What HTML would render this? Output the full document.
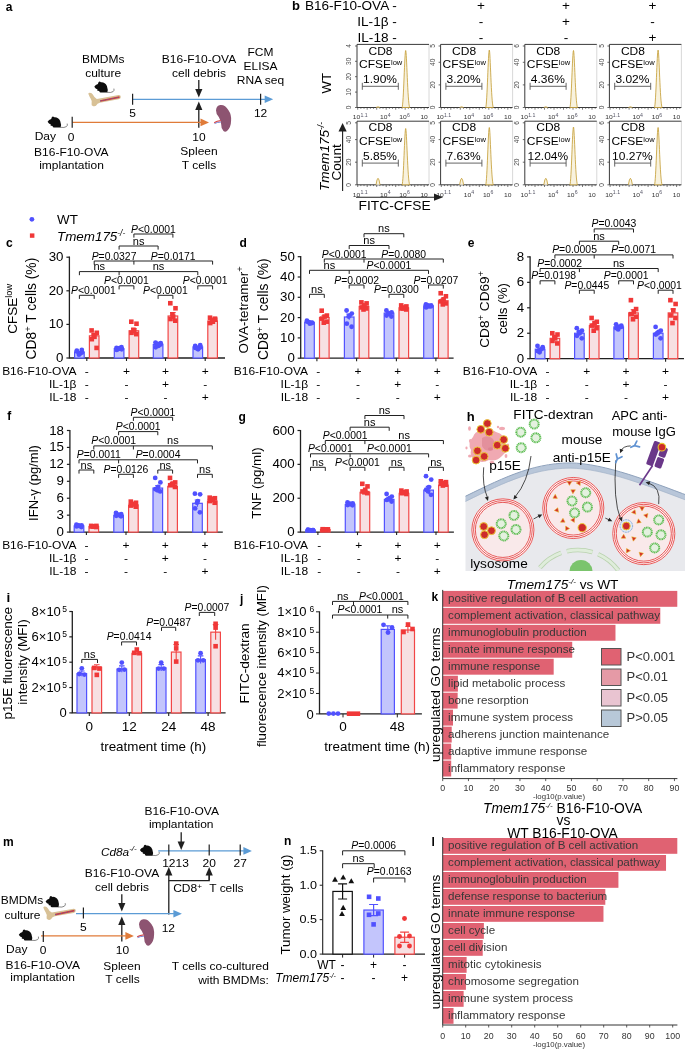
<!DOCTYPE html>
<html><head><meta charset="utf-8"><title>Figure</title>
<style>
html,body{margin:0;padding:0;background:#fff;}
body{width:685px;height:1050px;overflow:hidden;}
svg{display:block;will-change:transform;filter:blur(0.3px);font-family:"Liberation Sans",sans-serif;}
</style></head><body>
<svg width="685" height="1050" viewBox="0 0 685 1050">
<rect width="685" height="1050" fill="#fff"/>
<text x="5.70" y="11.20" font-size="12" font-weight="bold">a</text>
<text x="0" y="0" transform="translate(103.20,63.40) scale(1.08,1)" font-size="11.111" text-anchor="middle">BMDMs</text>
<text x="0" y="0" transform="translate(103.20,77.20) scale(1.08,1)" font-size="11.111" text-anchor="middle">culture</text>
<g transform="translate(94.30,81.00) scale(1.0,1.0)"><path d="M0,5.8 Q1.2,3.8 3.6,3.1 L4.2,1.2 Q5.3,-0.2 6.6,1.3 Q10.6,0.9 12.6,5 Q14,8.8 13,11.6 L6.2,11.6 Q4.6,11.3 5.1,9.9 L3.4,9.7 Q2.3,9.4 3.3,8.5 Q1.1,7.8 0,5.8Z" fill="#0d0d0d"/><path d="M12.6,11.3 Q16.8,12 18.8,10.6 Q20.3,9.4 19.6,7.6" stroke="#555" stroke-width="0.7" fill="none"/></g>
<g transform="translate(87.60,92.60) scale(1.0)"><path d="M1,2 Q0,0.4 2,0.2 Q4.2,0 5.2,2 Q6.3,4.6 9.2,6.4 L31,2.5 Q33.2,2.3 33.2,4.4 Q33.2,6.3 31,6.7 L12.2,10.1 Q9.4,11 8.8,12.6 Q7.8,14.2 5.6,13.6 Q3.4,13 4,10.8 Q4.6,8.4 3,6 Q1.8,4 1,2Z" fill="#d8c196"/><path d="M12.6,8.4 L31.8,4.5" stroke="#d23c3c" stroke-width="1.7" fill="none"/><path d="M12.6,8.4 L31.8,4.5" stroke="#4f5fb5" stroke-width="0.8" stroke-dasharray="1.1,1.3" fill="none"/></g>
<line x1="132.60" y1="99.30" x2="265.20" y2="99.30" stroke="#5b9bd5" stroke-width="1.3"/>
<path d="M273.20,99.30L264.70,95.50L264.70,103.10Z" fill="#5b9bd5"/>
<line x1="132.60" y1="93.70" x2="132.60" y2="104.70" stroke="#202020" stroke-width="1.2"/>
<line x1="260.60" y1="93.70" x2="260.60" y2="104.70" stroke="#202020" stroke-width="1.2"/>
<text x="0" y="0" transform="translate(132.60,117.20) scale(1.08,1)" font-size="11.111" text-anchor="middle">5</text>
<text x="0" y="0" transform="translate(260.60,117.20) scale(1.08,1)" font-size="11.111" text-anchor="middle">12</text>
<text x="0" y="0" transform="translate(260.50,55.50) scale(1.08,1)" font-size="11.111" text-anchor="middle">FCM</text>
<text x="0" y="0" transform="translate(260.50,70.00) scale(1.08,1)" font-size="11.111" text-anchor="middle">ELISA</text>
<text x="0" y="0" transform="translate(260.50,84.40) scale(1.08,1)" font-size="11.111" text-anchor="middle">RNA seq</text>
<text x="0" y="0" transform="translate(199.00,63.40) scale(1.08,1)" font-size="11.111" text-anchor="middle">B16-F10-OVA</text>
<text x="0" y="0" transform="translate(199.00,77.30) scale(1.08,1)" font-size="11.111" text-anchor="middle">cell debris</text>
<line x1="198.80" y1="80.00" x2="198.80" y2="89.50" stroke="#202020" stroke-width="1.3"/>
<path d="M198.80,97.50L195.20,89.00L202.40,89.00Z" fill="#202020"/>
<line x1="198.80" y1="127.70" x2="198.80" y2="109.40" stroke="#202020" stroke-width="1.3"/>
<path d="M198.80,101.40L195.20,109.90L202.40,109.90Z" fill="#202020"/>
<line x1="72.50" y1="122.40" x2="201.00" y2="122.40" stroke="#e07b39" stroke-width="1.3"/>
<path d="M209.00,122.40L200.50,118.60L200.50,126.20Z" fill="#e07b39"/>
<line x1="72.20" y1="116.70" x2="72.20" y2="127.70" stroke="#202020" stroke-width="1.2"/>
<g transform="translate(47.60,116.00) scale(1.0,1.0)"><path d="M0,5.8 Q1.2,3.8 3.6,3.1 L4.2,1.2 Q5.3,-0.2 6.6,1.3 Q10.6,0.9 12.6,5 Q14,8.8 13,11.6 L6.2,11.6 Q4.6,11.3 5.1,9.9 L3.4,9.7 Q2.3,9.4 3.3,8.5 Q1.1,7.8 0,5.8Z" fill="#0d0d0d"/><path d="M12.6,11.3 Q16.8,12 18.8,10.6 Q20.3,9.4 19.6,7.6" stroke="#555" stroke-width="0.7" fill="none"/></g>
<text x="0" y="0" transform="translate(34.70,140.00) scale(1.08,1)" font-size="11.111">Day</text>
<text x="0" y="0" transform="translate(71.00,141.20) scale(1.08,1)" font-size="11.111" text-anchor="middle">0</text>
<text x="0" y="0" transform="translate(71.30,155.80) scale(1.08,1)" font-size="11.111" text-anchor="middle">B16-F10-OVA</text>
<text x="0" y="0" transform="translate(71.50,168.70) scale(1.08,1)" font-size="11.111" text-anchor="middle">implantation</text>
<text x="0" y="0" transform="translate(199.00,141.40) scale(1.08,1)" font-size="11.111" text-anchor="middle">10</text>
<text x="0" y="0" transform="translate(199.00,155.30) scale(1.08,1)" font-size="11.111" text-anchor="middle">Spleen</text>
<text x="0" y="0" transform="translate(199.00,169.20) scale(1.08,1)" font-size="11.111" text-anchor="middle">T cells</text>
<g transform="translate(214.00,104.50) scale(1.0)"><path d="M6.3,0.6 Q11,0 14.5,5.7 Q17.5,10 17.1,16 Q17,23 13,26.5 Q11,27.8 9.5,26.5 Q7,24 7.2,20 Q7,16 4.8,12.4 Q1.8,9 2,5.7 Q2.5,1 6.3,0.6Z" fill="#8d5471"/><path d="M0.2,18.2 Q3,16.4 6.8,16.2" stroke="#d9423f" stroke-width="1.3" fill="none"/><path d="M0.6,19 Q3.2,17.7 6.8,17.6" stroke="#5866c8" stroke-width="0.8" fill="none"/></g>
<text x="292.00" y="10.40" font-size="13" font-weight="bold">b</text>
<text x="0" y="0" transform="translate(396.80,10.00) scale(1.08,1)" font-size="12.593" text-anchor="end">B16-F10-OVA -</text>
<text x="0" y="0" transform="translate(396.80,25.70) scale(1.08,1)" font-size="12.593" text-anchor="end">IL-1β -</text>
<text x="0" y="0" transform="translate(396.80,41.50) scale(1.08,1)" font-size="12.593" text-anchor="end">IL-18 -</text>
<text x="0" y="0" transform="translate(481.00,10.00) scale(1.08,1)" font-size="12.593" text-anchor="middle">+</text>
<text x="0" y="0" transform="translate(481.00,25.70) scale(1.08,1)" font-size="12.593" text-anchor="middle">-</text>
<text x="0" y="0" transform="translate(481.00,41.50) scale(1.08,1)" font-size="12.593" text-anchor="middle">-</text>
<text x="0" y="0" transform="translate(566.00,10.00) scale(1.08,1)" font-size="12.593" text-anchor="middle">+</text>
<text x="0" y="0" transform="translate(566.00,25.70) scale(1.08,1)" font-size="12.593" text-anchor="middle">+</text>
<text x="0" y="0" transform="translate(566.00,41.50) scale(1.08,1)" font-size="12.593" text-anchor="middle">-</text>
<text x="0" y="0" transform="translate(652.50,10.00) scale(1.08,1)" font-size="12.593" text-anchor="middle">+</text>
<text x="0" y="0" transform="translate(652.50,25.70) scale(1.08,1)" font-size="12.593" text-anchor="middle">-</text>
<text x="0" y="0" transform="translate(652.50,41.50) scale(1.08,1)" font-size="12.593" text-anchor="middle">+</text>
<line x1="429.00" y1="44.40" x2="429.00" y2="107.50" stroke="#d4d4d4" stroke-width="0.9"/>
<line x1="357.00" y1="44.40" x2="429.00" y2="44.40" stroke="#3a3a3a" stroke-width="1.0"/>
<path d="M357.00,44.40V107.50H429.00" fill="none" stroke="#3a3a3a" stroke-width="1.0"/>
<line x1="355.00" y1="107.50" x2="357.00" y2="107.50" stroke="#444" stroke-width="0.8"/>
<text x="0" y="0" transform="translate(351.20,107.50) rotate(-90) scale(1,1.0)" font-size="6.6" text-anchor="middle" fill="#4a4a4a">0</text>
<line x1="355.00" y1="92.10" x2="357.00" y2="92.10" stroke="#444" stroke-width="0.8"/>
<text x="0" y="0" transform="translate(351.20,92.10) rotate(-90) scale(1,1.0)" font-size="6.6" text-anchor="middle" fill="#4a4a4a">10</text>
<line x1="355.00" y1="76.70" x2="357.00" y2="76.70" stroke="#444" stroke-width="0.8"/>
<text x="0" y="0" transform="translate(351.20,76.70) rotate(-90) scale(1,1.0)" font-size="6.6" text-anchor="middle" fill="#4a4a4a">20</text>
<line x1="355.00" y1="61.30" x2="357.00" y2="61.30" stroke="#444" stroke-width="0.8"/>
<text x="0" y="0" transform="translate(351.20,61.30) rotate(-90) scale(1,1.0)" font-size="6.6" text-anchor="middle" fill="#4a4a4a">30</text>
<line x1="355.00" y1="46.00" x2="357.00" y2="46.00" stroke="#444" stroke-width="0.8"/>
<text x="0" y="0" transform="translate(351.20,46.00) rotate(-90) scale(1,1.0)" font-size="6.6" text-anchor="middle" fill="#4a4a4a">4</text>
<line x1="357.70" y1="107.50" x2="357.70" y2="109.70" stroke="#444" stroke-width="0.7"/>
<line x1="360.87" y1="107.50" x2="360.87" y2="108.80" stroke="#444" stroke-width="0.7"/>
<line x1="364.03" y1="107.50" x2="364.03" y2="108.80" stroke="#444" stroke-width="0.7"/>
<line x1="367.20" y1="107.50" x2="367.20" y2="109.70" stroke="#444" stroke-width="0.7"/>
<line x1="370.37" y1="107.50" x2="370.37" y2="108.80" stroke="#444" stroke-width="0.7"/>
<line x1="373.53" y1="107.50" x2="373.53" y2="108.80" stroke="#444" stroke-width="0.7"/>
<line x1="376.70" y1="107.50" x2="376.70" y2="109.70" stroke="#444" stroke-width="0.7"/>
<line x1="379.87" y1="107.50" x2="379.87" y2="108.80" stroke="#444" stroke-width="0.7"/>
<line x1="383.03" y1="107.50" x2="383.03" y2="108.80" stroke="#444" stroke-width="0.7"/>
<line x1="386.20" y1="107.50" x2="386.20" y2="109.70" stroke="#444" stroke-width="0.7"/>
<line x1="389.37" y1="107.50" x2="389.37" y2="108.80" stroke="#444" stroke-width="0.7"/>
<line x1="392.53" y1="107.50" x2="392.53" y2="108.80" stroke="#444" stroke-width="0.7"/>
<line x1="395.70" y1="107.50" x2="395.70" y2="109.70" stroke="#444" stroke-width="0.7"/>
<line x1="398.87" y1="107.50" x2="398.87" y2="108.80" stroke="#444" stroke-width="0.7"/>
<line x1="402.03" y1="107.50" x2="402.03" y2="108.80" stroke="#444" stroke-width="0.7"/>
<line x1="405.20" y1="107.50" x2="405.20" y2="109.70" stroke="#444" stroke-width="0.7"/>
<line x1="408.37" y1="107.50" x2="408.37" y2="108.80" stroke="#444" stroke-width="0.7"/>
<line x1="411.53" y1="107.50" x2="411.53" y2="108.80" stroke="#444" stroke-width="0.7"/>
<line x1="414.70" y1="107.50" x2="414.70" y2="109.70" stroke="#444" stroke-width="0.7"/>
<line x1="417.87" y1="107.50" x2="417.87" y2="108.80" stroke="#444" stroke-width="0.7"/>
<line x1="421.03" y1="107.50" x2="421.03" y2="108.80" stroke="#444" stroke-width="0.7"/>
<line x1="424.20" y1="107.50" x2="424.20" y2="109.70" stroke="#444" stroke-width="0.7"/>
<line x1="427.37" y1="107.50" x2="427.37" y2="108.80" stroke="#444" stroke-width="0.7"/>
<text x="0" y="0" transform="translate(352.80,119.20) scale(1.08,1)" font-size="6.204" fill="#333">10</text>
<text x="0" y="0" transform="translate(360.40,116.50) scale(1.08,1)" font-size="4.815" fill="#556">1.1</text>
<text x="0" y="0" transform="translate(380.10,119.20) scale(1.08,1)" font-size="6.204" fill="#333">10</text>
<text x="0" y="0" transform="translate(387.70,116.50) scale(1.08,1)" font-size="4.815" fill="#556">4</text>
<text x="0" y="0" transform="translate(399.30,119.20) scale(1.08,1)" font-size="6.204" fill="#333">10</text>
<text x="0" y="0" transform="translate(406.90,116.50) scale(1.08,1)" font-size="4.815" fill="#556">6</text>
<text x="0" y="0" transform="translate(420.40,119.20) scale(1.08,1)" font-size="6.204" fill="#333">10</text>
<path d="M402.10,107.50 C403.60,104.50 404.60,50.50 405.70,50.50 C406.70,50.50 407.60,103.50 409.70,107.50Z" fill="#f8f2de" stroke="#c39a2e" stroke-width="0.8"/>
<path d="M376.00,107.50 Q378.00,106.00 380.00,107.50" fill="#f8f2de" stroke="#c39a2e" stroke-width="0.8"/>
<text x="0" y="0" transform="translate(380.50,54.60) scale(1.08,1)" font-size="11.111" text-anchor="middle">CD8</text>
<text x="0" y="0" transform="translate(359.00,68.40) scale(1.08,1)" font-size="11.111">CFSE<tspan font-size="7" dy="-3.5">low</tspan></text>
<text x="0" y="0" transform="translate(380.00,83.40) scale(1.08,1)" font-size="11.111" text-anchor="middle">1.90%</text>
<path d="M362.30,82.80V89.80M362.30,86.30H398.30M398.30,82.80V89.80" fill="none" stroke="#555" stroke-width="0.9"/>
<line x1="429.00" y1="121.20" x2="429.00" y2="184.80" stroke="#d4d4d4" stroke-width="0.9"/>
<line x1="357.00" y1="121.20" x2="429.00" y2="121.20" stroke="#3a3a3a" stroke-width="1.0"/>
<path d="M357.00,121.20V184.80H429.00" fill="none" stroke="#3a3a3a" stroke-width="1.0"/>
<line x1="355.00" y1="184.80" x2="357.00" y2="184.80" stroke="#444" stroke-width="0.8"/>
<text x="0" y="0" transform="translate(351.20,184.80) rotate(-90) scale(1,1.0)" font-size="6.6" text-anchor="middle" fill="#4a4a4a">0</text>
<line x1="355.00" y1="162.20" x2="357.00" y2="162.20" stroke="#444" stroke-width="0.8"/>
<text x="0" y="0" transform="translate(351.20,162.20) rotate(-90) scale(1,1.0)" font-size="6.6" text-anchor="middle" fill="#4a4a4a">20</text>
<line x1="355.00" y1="139.60" x2="357.00" y2="139.60" stroke="#444" stroke-width="0.8"/>
<text x="0" y="0" transform="translate(351.20,139.60) rotate(-90) scale(1,1.0)" font-size="6.6" text-anchor="middle" fill="#4a4a4a">40</text>
<line x1="355.00" y1="122.80" x2="357.00" y2="122.80" stroke="#444" stroke-width="0.8"/>
<text x="0" y="0" transform="translate(351.20,122.80) rotate(-90) scale(1,1.0)" font-size="6.6" text-anchor="middle" fill="#4a4a4a">5</text>
<line x1="357.70" y1="184.80" x2="357.70" y2="187.00" stroke="#444" stroke-width="0.7"/>
<line x1="360.87" y1="184.80" x2="360.87" y2="186.10" stroke="#444" stroke-width="0.7"/>
<line x1="364.03" y1="184.80" x2="364.03" y2="186.10" stroke="#444" stroke-width="0.7"/>
<line x1="367.20" y1="184.80" x2="367.20" y2="187.00" stroke="#444" stroke-width="0.7"/>
<line x1="370.37" y1="184.80" x2="370.37" y2="186.10" stroke="#444" stroke-width="0.7"/>
<line x1="373.53" y1="184.80" x2="373.53" y2="186.10" stroke="#444" stroke-width="0.7"/>
<line x1="376.70" y1="184.80" x2="376.70" y2="187.00" stroke="#444" stroke-width="0.7"/>
<line x1="379.87" y1="184.80" x2="379.87" y2="186.10" stroke="#444" stroke-width="0.7"/>
<line x1="383.03" y1="184.80" x2="383.03" y2="186.10" stroke="#444" stroke-width="0.7"/>
<line x1="386.20" y1="184.80" x2="386.20" y2="187.00" stroke="#444" stroke-width="0.7"/>
<line x1="389.37" y1="184.80" x2="389.37" y2="186.10" stroke="#444" stroke-width="0.7"/>
<line x1="392.53" y1="184.80" x2="392.53" y2="186.10" stroke="#444" stroke-width="0.7"/>
<line x1="395.70" y1="184.80" x2="395.70" y2="187.00" stroke="#444" stroke-width="0.7"/>
<line x1="398.87" y1="184.80" x2="398.87" y2="186.10" stroke="#444" stroke-width="0.7"/>
<line x1="402.03" y1="184.80" x2="402.03" y2="186.10" stroke="#444" stroke-width="0.7"/>
<line x1="405.20" y1="184.80" x2="405.20" y2="187.00" stroke="#444" stroke-width="0.7"/>
<line x1="408.37" y1="184.80" x2="408.37" y2="186.10" stroke="#444" stroke-width="0.7"/>
<line x1="411.53" y1="184.80" x2="411.53" y2="186.10" stroke="#444" stroke-width="0.7"/>
<line x1="414.70" y1="184.80" x2="414.70" y2="187.00" stroke="#444" stroke-width="0.7"/>
<line x1="417.87" y1="184.80" x2="417.87" y2="186.10" stroke="#444" stroke-width="0.7"/>
<line x1="421.03" y1="184.80" x2="421.03" y2="186.10" stroke="#444" stroke-width="0.7"/>
<line x1="424.20" y1="184.80" x2="424.20" y2="187.00" stroke="#444" stroke-width="0.7"/>
<line x1="427.37" y1="184.80" x2="427.37" y2="186.10" stroke="#444" stroke-width="0.7"/>
<text x="0" y="0" transform="translate(352.80,196.50) scale(1.08,1)" font-size="6.204" fill="#333">10</text>
<text x="0" y="0" transform="translate(360.40,193.80) scale(1.08,1)" font-size="4.815" fill="#556">1.1</text>
<text x="0" y="0" transform="translate(380.10,196.50) scale(1.08,1)" font-size="6.204" fill="#333">10</text>
<text x="0" y="0" transform="translate(387.70,193.80) scale(1.08,1)" font-size="4.815" fill="#556">4</text>
<text x="0" y="0" transform="translate(399.30,196.50) scale(1.08,1)" font-size="6.204" fill="#333">10</text>
<text x="0" y="0" transform="translate(406.90,193.80) scale(1.08,1)" font-size="4.815" fill="#556">6</text>
<text x="0" y="0" transform="translate(420.40,196.50) scale(1.08,1)" font-size="6.204" fill="#333">10</text>
<path d="M402.10,184.80 C403.60,181.80 404.60,128.50 405.70,128.50 C406.70,128.50 407.60,180.80 409.70,184.80Z" fill="#f8f2de" stroke="#c39a2e" stroke-width="0.8"/>
<path d="M376.00,184.80 Q378.00,171.80 380.00,184.80" fill="#f8f2de" stroke="#c39a2e" stroke-width="0.8"/>
<text x="0" y="0" transform="translate(380.50,131.40) scale(1.08,1)" font-size="11.111" text-anchor="middle">CD8</text>
<text x="0" y="0" transform="translate(359.00,145.20) scale(1.08,1)" font-size="11.111">CFSE<tspan font-size="7" dy="-3.5">low</tspan></text>
<text x="0" y="0" transform="translate(380.00,160.20) scale(1.08,1)" font-size="11.111" text-anchor="middle">5.85%</text>
<path d="M362.30,159.60V166.60M362.30,163.10H398.30M398.30,159.60V166.60" fill="none" stroke="#555" stroke-width="0.9"/>
<line x1="512.60" y1="44.40" x2="512.60" y2="107.50" stroke="#d4d4d4" stroke-width="0.9"/>
<line x1="440.60" y1="44.40" x2="512.60" y2="44.40" stroke="#3a3a3a" stroke-width="1.0"/>
<path d="M440.60,44.40V107.50H512.60" fill="none" stroke="#3a3a3a" stroke-width="1.0"/>
<line x1="438.60" y1="107.50" x2="440.60" y2="107.50" stroke="#444" stroke-width="0.8"/>
<text x="0" y="0" transform="translate(434.80,107.50) rotate(-90) scale(1,1.0)" font-size="6.6" text-anchor="middle" fill="#4a4a4a">0</text>
<line x1="438.60" y1="84.90" x2="440.60" y2="84.90" stroke="#444" stroke-width="0.8"/>
<text x="0" y="0" transform="translate(434.80,84.90) rotate(-90) scale(1,1.0)" font-size="6.6" text-anchor="middle" fill="#4a4a4a">20</text>
<line x1="438.60" y1="62.30" x2="440.60" y2="62.30" stroke="#444" stroke-width="0.8"/>
<text x="0" y="0" transform="translate(434.80,62.30) rotate(-90) scale(1,1.0)" font-size="6.6" text-anchor="middle" fill="#4a4a4a">40</text>
<line x1="438.60" y1="46.00" x2="440.60" y2="46.00" stroke="#444" stroke-width="0.8"/>
<text x="0" y="0" transform="translate(434.80,46.00) rotate(-90) scale(1,1.0)" font-size="6.6" text-anchor="middle" fill="#4a4a4a">5</text>
<line x1="441.30" y1="107.50" x2="441.30" y2="109.70" stroke="#444" stroke-width="0.7"/>
<line x1="444.47" y1="107.50" x2="444.47" y2="108.80" stroke="#444" stroke-width="0.7"/>
<line x1="447.63" y1="107.50" x2="447.63" y2="108.80" stroke="#444" stroke-width="0.7"/>
<line x1="450.80" y1="107.50" x2="450.80" y2="109.70" stroke="#444" stroke-width="0.7"/>
<line x1="453.97" y1="107.50" x2="453.97" y2="108.80" stroke="#444" stroke-width="0.7"/>
<line x1="457.13" y1="107.50" x2="457.13" y2="108.80" stroke="#444" stroke-width="0.7"/>
<line x1="460.30" y1="107.50" x2="460.30" y2="109.70" stroke="#444" stroke-width="0.7"/>
<line x1="463.47" y1="107.50" x2="463.47" y2="108.80" stroke="#444" stroke-width="0.7"/>
<line x1="466.63" y1="107.50" x2="466.63" y2="108.80" stroke="#444" stroke-width="0.7"/>
<line x1="469.80" y1="107.50" x2="469.80" y2="109.70" stroke="#444" stroke-width="0.7"/>
<line x1="472.97" y1="107.50" x2="472.97" y2="108.80" stroke="#444" stroke-width="0.7"/>
<line x1="476.13" y1="107.50" x2="476.13" y2="108.80" stroke="#444" stroke-width="0.7"/>
<line x1="479.30" y1="107.50" x2="479.30" y2="109.70" stroke="#444" stroke-width="0.7"/>
<line x1="482.47" y1="107.50" x2="482.47" y2="108.80" stroke="#444" stroke-width="0.7"/>
<line x1="485.63" y1="107.50" x2="485.63" y2="108.80" stroke="#444" stroke-width="0.7"/>
<line x1="488.80" y1="107.50" x2="488.80" y2="109.70" stroke="#444" stroke-width="0.7"/>
<line x1="491.97" y1="107.50" x2="491.97" y2="108.80" stroke="#444" stroke-width="0.7"/>
<line x1="495.13" y1="107.50" x2="495.13" y2="108.80" stroke="#444" stroke-width="0.7"/>
<line x1="498.30" y1="107.50" x2="498.30" y2="109.70" stroke="#444" stroke-width="0.7"/>
<line x1="501.47" y1="107.50" x2="501.47" y2="108.80" stroke="#444" stroke-width="0.7"/>
<line x1="504.63" y1="107.50" x2="504.63" y2="108.80" stroke="#444" stroke-width="0.7"/>
<line x1="507.80" y1="107.50" x2="507.80" y2="109.70" stroke="#444" stroke-width="0.7"/>
<line x1="510.97" y1="107.50" x2="510.97" y2="108.80" stroke="#444" stroke-width="0.7"/>
<text x="0" y="0" transform="translate(436.40,119.20) scale(1.08,1)" font-size="6.204" fill="#333">10</text>
<text x="0" y="0" transform="translate(444.00,116.50) scale(1.08,1)" font-size="4.815" fill="#556">1.1</text>
<text x="0" y="0" transform="translate(463.70,119.20) scale(1.08,1)" font-size="6.204" fill="#333">10</text>
<text x="0" y="0" transform="translate(471.30,116.50) scale(1.08,1)" font-size="4.815" fill="#556">4</text>
<text x="0" y="0" transform="translate(482.90,119.20) scale(1.08,1)" font-size="6.204" fill="#333">10</text>
<text x="0" y="0" transform="translate(490.50,116.50) scale(1.08,1)" font-size="4.815" fill="#556">6</text>
<text x="0" y="0" transform="translate(504.00,119.20) scale(1.08,1)" font-size="6.204" fill="#333">10</text>
<path d="M485.70,107.50 C487.20,104.50 488.20,50.00 489.30,50.00 C490.30,50.00 491.20,103.50 493.30,107.50Z" fill="#f8f2de" stroke="#c39a2e" stroke-width="0.8"/>
<path d="M459.60,107.50 Q461.60,106.00 463.60,107.50" fill="#f8f2de" stroke="#c39a2e" stroke-width="0.8"/>
<text x="0" y="0" transform="translate(464.10,54.60) scale(1.08,1)" font-size="11.111" text-anchor="middle">CD8</text>
<text x="0" y="0" transform="translate(442.60,68.40) scale(1.08,1)" font-size="11.111">CFSE<tspan font-size="7" dy="-3.5">low</tspan></text>
<text x="0" y="0" transform="translate(463.60,83.40) scale(1.08,1)" font-size="11.111" text-anchor="middle">3.20%</text>
<path d="M445.90,82.80V89.80M445.90,86.30H481.90M481.90,82.80V89.80" fill="none" stroke="#555" stroke-width="0.9"/>
<line x1="512.60" y1="121.20" x2="512.60" y2="184.80" stroke="#d4d4d4" stroke-width="0.9"/>
<line x1="440.60" y1="121.20" x2="512.60" y2="121.20" stroke="#3a3a3a" stroke-width="1.0"/>
<path d="M440.60,121.20V184.80H512.60" fill="none" stroke="#3a3a3a" stroke-width="1.0"/>
<line x1="438.60" y1="184.80" x2="440.60" y2="184.80" stroke="#444" stroke-width="0.8"/>
<text x="0" y="0" transform="translate(434.80,184.80) rotate(-90) scale(1,1.0)" font-size="6.6" text-anchor="middle" fill="#4a4a4a">0</text>
<line x1="438.60" y1="162.20" x2="440.60" y2="162.20" stroke="#444" stroke-width="0.8"/>
<text x="0" y="0" transform="translate(434.80,162.20) rotate(-90) scale(1,1.0)" font-size="6.6" text-anchor="middle" fill="#4a4a4a">20</text>
<line x1="438.60" y1="139.60" x2="440.60" y2="139.60" stroke="#444" stroke-width="0.8"/>
<text x="0" y="0" transform="translate(434.80,139.60) rotate(-90) scale(1,1.0)" font-size="6.6" text-anchor="middle" fill="#4a4a4a">40</text>
<line x1="438.60" y1="122.80" x2="440.60" y2="122.80" stroke="#444" stroke-width="0.8"/>
<text x="0" y="0" transform="translate(434.80,122.80) rotate(-90) scale(1,1.0)" font-size="6.6" text-anchor="middle" fill="#4a4a4a">5</text>
<line x1="441.30" y1="184.80" x2="441.30" y2="187.00" stroke="#444" stroke-width="0.7"/>
<line x1="444.47" y1="184.80" x2="444.47" y2="186.10" stroke="#444" stroke-width="0.7"/>
<line x1="447.63" y1="184.80" x2="447.63" y2="186.10" stroke="#444" stroke-width="0.7"/>
<line x1="450.80" y1="184.80" x2="450.80" y2="187.00" stroke="#444" stroke-width="0.7"/>
<line x1="453.97" y1="184.80" x2="453.97" y2="186.10" stroke="#444" stroke-width="0.7"/>
<line x1="457.13" y1="184.80" x2="457.13" y2="186.10" stroke="#444" stroke-width="0.7"/>
<line x1="460.30" y1="184.80" x2="460.30" y2="187.00" stroke="#444" stroke-width="0.7"/>
<line x1="463.47" y1="184.80" x2="463.47" y2="186.10" stroke="#444" stroke-width="0.7"/>
<line x1="466.63" y1="184.80" x2="466.63" y2="186.10" stroke="#444" stroke-width="0.7"/>
<line x1="469.80" y1="184.80" x2="469.80" y2="187.00" stroke="#444" stroke-width="0.7"/>
<line x1="472.97" y1="184.80" x2="472.97" y2="186.10" stroke="#444" stroke-width="0.7"/>
<line x1="476.13" y1="184.80" x2="476.13" y2="186.10" stroke="#444" stroke-width="0.7"/>
<line x1="479.30" y1="184.80" x2="479.30" y2="187.00" stroke="#444" stroke-width="0.7"/>
<line x1="482.47" y1="184.80" x2="482.47" y2="186.10" stroke="#444" stroke-width="0.7"/>
<line x1="485.63" y1="184.80" x2="485.63" y2="186.10" stroke="#444" stroke-width="0.7"/>
<line x1="488.80" y1="184.80" x2="488.80" y2="187.00" stroke="#444" stroke-width="0.7"/>
<line x1="491.97" y1="184.80" x2="491.97" y2="186.10" stroke="#444" stroke-width="0.7"/>
<line x1="495.13" y1="184.80" x2="495.13" y2="186.10" stroke="#444" stroke-width="0.7"/>
<line x1="498.30" y1="184.80" x2="498.30" y2="187.00" stroke="#444" stroke-width="0.7"/>
<line x1="501.47" y1="184.80" x2="501.47" y2="186.10" stroke="#444" stroke-width="0.7"/>
<line x1="504.63" y1="184.80" x2="504.63" y2="186.10" stroke="#444" stroke-width="0.7"/>
<line x1="507.80" y1="184.80" x2="507.80" y2="187.00" stroke="#444" stroke-width="0.7"/>
<line x1="510.97" y1="184.80" x2="510.97" y2="186.10" stroke="#444" stroke-width="0.7"/>
<text x="0" y="0" transform="translate(436.40,196.50) scale(1.08,1)" font-size="6.204" fill="#333">10</text>
<text x="0" y="0" transform="translate(444.00,193.80) scale(1.08,1)" font-size="4.815" fill="#556">1.1</text>
<text x="0" y="0" transform="translate(463.70,196.50) scale(1.08,1)" font-size="6.204" fill="#333">10</text>
<text x="0" y="0" transform="translate(471.30,193.80) scale(1.08,1)" font-size="4.815" fill="#556">4</text>
<text x="0" y="0" transform="translate(482.90,196.50) scale(1.08,1)" font-size="6.204" fill="#333">10</text>
<text x="0" y="0" transform="translate(490.50,193.80) scale(1.08,1)" font-size="4.815" fill="#556">6</text>
<text x="0" y="0" transform="translate(504.00,196.50) scale(1.08,1)" font-size="6.204" fill="#333">10</text>
<path d="M485.70,184.80 C487.20,181.80 488.20,127.50 489.30,127.50 C490.30,127.50 491.20,180.80 493.30,184.80Z" fill="#f8f2de" stroke="#c39a2e" stroke-width="0.8"/>
<path d="M459.60,184.80 Q461.60,171.80 463.60,184.80" fill="#f8f2de" stroke="#c39a2e" stroke-width="0.8"/>
<text x="0" y="0" transform="translate(464.10,131.40) scale(1.08,1)" font-size="11.111" text-anchor="middle">CD8</text>
<text x="0" y="0" transform="translate(442.60,145.20) scale(1.08,1)" font-size="11.111">CFSE<tspan font-size="7" dy="-3.5">low</tspan></text>
<text x="0" y="0" transform="translate(463.60,160.20) scale(1.08,1)" font-size="11.111" text-anchor="middle">7.63%</text>
<path d="M445.90,159.60V166.60M445.90,163.10H481.90M481.90,159.60V166.60" fill="none" stroke="#555" stroke-width="0.9"/>
<line x1="596.80" y1="44.40" x2="596.80" y2="107.50" stroke="#d4d4d4" stroke-width="0.9"/>
<line x1="524.80" y1="44.40" x2="596.80" y2="44.40" stroke="#3a3a3a" stroke-width="1.0"/>
<path d="M524.80,44.40V107.50H596.80" fill="none" stroke="#3a3a3a" stroke-width="1.0"/>
<line x1="522.80" y1="107.50" x2="524.80" y2="107.50" stroke="#444" stroke-width="0.8"/>
<text x="0" y="0" transform="translate(519.00,107.50) rotate(-90) scale(1,1.0)" font-size="6.6" text-anchor="middle" fill="#4a4a4a">0</text>
<line x1="522.80" y1="84.90" x2="524.80" y2="84.90" stroke="#444" stroke-width="0.8"/>
<text x="0" y="0" transform="translate(519.00,84.90) rotate(-90) scale(1,1.0)" font-size="6.6" text-anchor="middle" fill="#4a4a4a">20</text>
<line x1="522.80" y1="62.30" x2="524.80" y2="62.30" stroke="#444" stroke-width="0.8"/>
<text x="0" y="0" transform="translate(519.00,62.30) rotate(-90) scale(1,1.0)" font-size="6.6" text-anchor="middle" fill="#4a4a4a">40</text>
<line x1="522.80" y1="46.00" x2="524.80" y2="46.00" stroke="#444" stroke-width="0.8"/>
<text x="0" y="0" transform="translate(519.00,46.00) rotate(-90) scale(1,1.0)" font-size="6.6" text-anchor="middle" fill="#4a4a4a">6</text>
<line x1="525.50" y1="107.50" x2="525.50" y2="109.70" stroke="#444" stroke-width="0.7"/>
<line x1="528.67" y1="107.50" x2="528.67" y2="108.80" stroke="#444" stroke-width="0.7"/>
<line x1="531.83" y1="107.50" x2="531.83" y2="108.80" stroke="#444" stroke-width="0.7"/>
<line x1="535.00" y1="107.50" x2="535.00" y2="109.70" stroke="#444" stroke-width="0.7"/>
<line x1="538.17" y1="107.50" x2="538.17" y2="108.80" stroke="#444" stroke-width="0.7"/>
<line x1="541.33" y1="107.50" x2="541.33" y2="108.80" stroke="#444" stroke-width="0.7"/>
<line x1="544.50" y1="107.50" x2="544.50" y2="109.70" stroke="#444" stroke-width="0.7"/>
<line x1="547.67" y1="107.50" x2="547.67" y2="108.80" stroke="#444" stroke-width="0.7"/>
<line x1="550.83" y1="107.50" x2="550.83" y2="108.80" stroke="#444" stroke-width="0.7"/>
<line x1="554.00" y1="107.50" x2="554.00" y2="109.70" stroke="#444" stroke-width="0.7"/>
<line x1="557.17" y1="107.50" x2="557.17" y2="108.80" stroke="#444" stroke-width="0.7"/>
<line x1="560.33" y1="107.50" x2="560.33" y2="108.80" stroke="#444" stroke-width="0.7"/>
<line x1="563.50" y1="107.50" x2="563.50" y2="109.70" stroke="#444" stroke-width="0.7"/>
<line x1="566.67" y1="107.50" x2="566.67" y2="108.80" stroke="#444" stroke-width="0.7"/>
<line x1="569.83" y1="107.50" x2="569.83" y2="108.80" stroke="#444" stroke-width="0.7"/>
<line x1="573.00" y1="107.50" x2="573.00" y2="109.70" stroke="#444" stroke-width="0.7"/>
<line x1="576.17" y1="107.50" x2="576.17" y2="108.80" stroke="#444" stroke-width="0.7"/>
<line x1="579.33" y1="107.50" x2="579.33" y2="108.80" stroke="#444" stroke-width="0.7"/>
<line x1="582.50" y1="107.50" x2="582.50" y2="109.70" stroke="#444" stroke-width="0.7"/>
<line x1="585.67" y1="107.50" x2="585.67" y2="108.80" stroke="#444" stroke-width="0.7"/>
<line x1="588.83" y1="107.50" x2="588.83" y2="108.80" stroke="#444" stroke-width="0.7"/>
<line x1="592.00" y1="107.50" x2="592.00" y2="109.70" stroke="#444" stroke-width="0.7"/>
<line x1="595.17" y1="107.50" x2="595.17" y2="108.80" stroke="#444" stroke-width="0.7"/>
<text x="0" y="0" transform="translate(520.60,119.20) scale(1.08,1)" font-size="6.204" fill="#333">10</text>
<text x="0" y="0" transform="translate(528.20,116.50) scale(1.08,1)" font-size="4.815" fill="#556">1.1</text>
<text x="0" y="0" transform="translate(547.90,119.20) scale(1.08,1)" font-size="6.204" fill="#333">10</text>
<text x="0" y="0" transform="translate(555.50,116.50) scale(1.08,1)" font-size="4.815" fill="#556">4</text>
<text x="0" y="0" transform="translate(567.10,119.20) scale(1.08,1)" font-size="6.204" fill="#333">10</text>
<text x="0" y="0" transform="translate(574.70,116.50) scale(1.08,1)" font-size="4.815" fill="#556">6</text>
<text x="0" y="0" transform="translate(588.20,119.20) scale(1.08,1)" font-size="6.204" fill="#333">10</text>
<path d="M569.90,107.50 C571.40,104.50 572.40,50.50 573.50,50.50 C574.50,50.50 575.40,103.50 577.50,107.50Z" fill="#f8f2de" stroke="#c39a2e" stroke-width="0.8"/>
<path d="M543.80,107.50 Q545.80,106.00 547.80,107.50" fill="#f8f2de" stroke="#c39a2e" stroke-width="0.8"/>
<text x="0" y="0" transform="translate(548.30,54.60) scale(1.08,1)" font-size="11.111" text-anchor="middle">CD8</text>
<text x="0" y="0" transform="translate(526.80,68.40) scale(1.08,1)" font-size="11.111">CFSE<tspan font-size="7" dy="-3.5">low</tspan></text>
<text x="0" y="0" transform="translate(547.80,83.40) scale(1.08,1)" font-size="11.111" text-anchor="middle">4.36%</text>
<path d="M530.10,82.80V89.80M530.10,86.30H566.10M566.10,82.80V89.80" fill="none" stroke="#555" stroke-width="0.9"/>
<line x1="596.80" y1="121.20" x2="596.80" y2="184.80" stroke="#d4d4d4" stroke-width="0.9"/>
<line x1="524.80" y1="121.20" x2="596.80" y2="121.20" stroke="#3a3a3a" stroke-width="1.0"/>
<path d="M524.80,121.20V184.80H596.80" fill="none" stroke="#3a3a3a" stroke-width="1.0"/>
<line x1="522.80" y1="184.80" x2="524.80" y2="184.80" stroke="#444" stroke-width="0.8"/>
<text x="0" y="0" transform="translate(519.00,184.80) rotate(-90) scale(1,1.0)" font-size="6.6" text-anchor="middle" fill="#4a4a4a">0</text>
<line x1="522.80" y1="162.20" x2="524.80" y2="162.20" stroke="#444" stroke-width="0.8"/>
<text x="0" y="0" transform="translate(519.00,162.20) rotate(-90) scale(1,1.0)" font-size="6.6" text-anchor="middle" fill="#4a4a4a">20</text>
<line x1="522.80" y1="139.60" x2="524.80" y2="139.60" stroke="#444" stroke-width="0.8"/>
<text x="0" y="0" transform="translate(519.00,139.60) rotate(-90) scale(1,1.0)" font-size="6.6" text-anchor="middle" fill="#4a4a4a">40</text>
<line x1="522.80" y1="122.80" x2="524.80" y2="122.80" stroke="#444" stroke-width="0.8"/>
<text x="0" y="0" transform="translate(519.00,122.80) rotate(-90) scale(1,1.0)" font-size="6.6" text-anchor="middle" fill="#4a4a4a">6</text>
<line x1="525.50" y1="184.80" x2="525.50" y2="187.00" stroke="#444" stroke-width="0.7"/>
<line x1="528.67" y1="184.80" x2="528.67" y2="186.10" stroke="#444" stroke-width="0.7"/>
<line x1="531.83" y1="184.80" x2="531.83" y2="186.10" stroke="#444" stroke-width="0.7"/>
<line x1="535.00" y1="184.80" x2="535.00" y2="187.00" stroke="#444" stroke-width="0.7"/>
<line x1="538.17" y1="184.80" x2="538.17" y2="186.10" stroke="#444" stroke-width="0.7"/>
<line x1="541.33" y1="184.80" x2="541.33" y2="186.10" stroke="#444" stroke-width="0.7"/>
<line x1="544.50" y1="184.80" x2="544.50" y2="187.00" stroke="#444" stroke-width="0.7"/>
<line x1="547.67" y1="184.80" x2="547.67" y2="186.10" stroke="#444" stroke-width="0.7"/>
<line x1="550.83" y1="184.80" x2="550.83" y2="186.10" stroke="#444" stroke-width="0.7"/>
<line x1="554.00" y1="184.80" x2="554.00" y2="187.00" stroke="#444" stroke-width="0.7"/>
<line x1="557.17" y1="184.80" x2="557.17" y2="186.10" stroke="#444" stroke-width="0.7"/>
<line x1="560.33" y1="184.80" x2="560.33" y2="186.10" stroke="#444" stroke-width="0.7"/>
<line x1="563.50" y1="184.80" x2="563.50" y2="187.00" stroke="#444" stroke-width="0.7"/>
<line x1="566.67" y1="184.80" x2="566.67" y2="186.10" stroke="#444" stroke-width="0.7"/>
<line x1="569.83" y1="184.80" x2="569.83" y2="186.10" stroke="#444" stroke-width="0.7"/>
<line x1="573.00" y1="184.80" x2="573.00" y2="187.00" stroke="#444" stroke-width="0.7"/>
<line x1="576.17" y1="184.80" x2="576.17" y2="186.10" stroke="#444" stroke-width="0.7"/>
<line x1="579.33" y1="184.80" x2="579.33" y2="186.10" stroke="#444" stroke-width="0.7"/>
<line x1="582.50" y1="184.80" x2="582.50" y2="187.00" stroke="#444" stroke-width="0.7"/>
<line x1="585.67" y1="184.80" x2="585.67" y2="186.10" stroke="#444" stroke-width="0.7"/>
<line x1="588.83" y1="184.80" x2="588.83" y2="186.10" stroke="#444" stroke-width="0.7"/>
<line x1="592.00" y1="184.80" x2="592.00" y2="187.00" stroke="#444" stroke-width="0.7"/>
<line x1="595.17" y1="184.80" x2="595.17" y2="186.10" stroke="#444" stroke-width="0.7"/>
<text x="0" y="0" transform="translate(520.60,196.50) scale(1.08,1)" font-size="6.204" fill="#333">10</text>
<text x="0" y="0" transform="translate(528.20,193.80) scale(1.08,1)" font-size="4.815" fill="#556">1.1</text>
<text x="0" y="0" transform="translate(547.90,196.50) scale(1.08,1)" font-size="6.204" fill="#333">10</text>
<text x="0" y="0" transform="translate(555.50,193.80) scale(1.08,1)" font-size="4.815" fill="#556">4</text>
<text x="0" y="0" transform="translate(567.10,196.50) scale(1.08,1)" font-size="6.204" fill="#333">10</text>
<text x="0" y="0" transform="translate(574.70,193.80) scale(1.08,1)" font-size="4.815" fill="#556">6</text>
<text x="0" y="0" transform="translate(588.20,196.50) scale(1.08,1)" font-size="6.204" fill="#333">10</text>
<path d="M569.90,184.80 C571.40,181.80 572.40,127.00 573.50,127.00 C574.50,127.00 575.40,180.80 577.50,184.80Z" fill="#f8f2de" stroke="#c39a2e" stroke-width="0.8"/>
<path d="M543.80,184.80 Q545.80,171.80 547.80,184.80" fill="#f8f2de" stroke="#c39a2e" stroke-width="0.8"/>
<text x="0" y="0" transform="translate(548.30,131.40) scale(1.08,1)" font-size="11.111" text-anchor="middle">CD8</text>
<text x="0" y="0" transform="translate(526.80,145.20) scale(1.08,1)" font-size="11.111">CFSE<tspan font-size="7" dy="-3.5">low</tspan></text>
<text x="0" y="0" transform="translate(547.80,160.20) scale(1.08,1)" font-size="11.111" text-anchor="middle">12.04%</text>
<path d="M530.10,159.60V166.60M530.10,163.10H566.10M566.10,159.60V166.60" fill="none" stroke="#555" stroke-width="0.9"/>
<line x1="681.40" y1="44.40" x2="681.40" y2="107.50" stroke="#d4d4d4" stroke-width="0.9"/>
<line x1="609.40" y1="44.40" x2="681.40" y2="44.40" stroke="#3a3a3a" stroke-width="1.0"/>
<path d="M609.40,44.40V107.50H681.40" fill="none" stroke="#3a3a3a" stroke-width="1.0"/>
<line x1="607.40" y1="107.50" x2="609.40" y2="107.50" stroke="#444" stroke-width="0.8"/>
<text x="0" y="0" transform="translate(603.60,107.50) rotate(-90) scale(1,1.0)" font-size="6.6" text-anchor="middle" fill="#4a4a4a">0</text>
<line x1="607.40" y1="84.90" x2="609.40" y2="84.90" stroke="#444" stroke-width="0.8"/>
<text x="0" y="0" transform="translate(603.60,84.90) rotate(-90) scale(1,1.0)" font-size="6.6" text-anchor="middle" fill="#4a4a4a">20</text>
<line x1="607.40" y1="62.30" x2="609.40" y2="62.30" stroke="#444" stroke-width="0.8"/>
<text x="0" y="0" transform="translate(603.60,62.30) rotate(-90) scale(1,1.0)" font-size="6.6" text-anchor="middle" fill="#4a4a4a">40</text>
<line x1="607.40" y1="46.00" x2="609.40" y2="46.00" stroke="#444" stroke-width="0.8"/>
<text x="0" y="0" transform="translate(603.60,46.00) rotate(-90) scale(1,1.0)" font-size="6.6" text-anchor="middle" fill="#4a4a4a">5</text>
<line x1="610.10" y1="107.50" x2="610.10" y2="109.70" stroke="#444" stroke-width="0.7"/>
<line x1="613.27" y1="107.50" x2="613.27" y2="108.80" stroke="#444" stroke-width="0.7"/>
<line x1="616.43" y1="107.50" x2="616.43" y2="108.80" stroke="#444" stroke-width="0.7"/>
<line x1="619.60" y1="107.50" x2="619.60" y2="109.70" stroke="#444" stroke-width="0.7"/>
<line x1="622.77" y1="107.50" x2="622.77" y2="108.80" stroke="#444" stroke-width="0.7"/>
<line x1="625.93" y1="107.50" x2="625.93" y2="108.80" stroke="#444" stroke-width="0.7"/>
<line x1="629.10" y1="107.50" x2="629.10" y2="109.70" stroke="#444" stroke-width="0.7"/>
<line x1="632.27" y1="107.50" x2="632.27" y2="108.80" stroke="#444" stroke-width="0.7"/>
<line x1="635.43" y1="107.50" x2="635.43" y2="108.80" stroke="#444" stroke-width="0.7"/>
<line x1="638.60" y1="107.50" x2="638.60" y2="109.70" stroke="#444" stroke-width="0.7"/>
<line x1="641.77" y1="107.50" x2="641.77" y2="108.80" stroke="#444" stroke-width="0.7"/>
<line x1="644.93" y1="107.50" x2="644.93" y2="108.80" stroke="#444" stroke-width="0.7"/>
<line x1="648.10" y1="107.50" x2="648.10" y2="109.70" stroke="#444" stroke-width="0.7"/>
<line x1="651.27" y1="107.50" x2="651.27" y2="108.80" stroke="#444" stroke-width="0.7"/>
<line x1="654.43" y1="107.50" x2="654.43" y2="108.80" stroke="#444" stroke-width="0.7"/>
<line x1="657.60" y1="107.50" x2="657.60" y2="109.70" stroke="#444" stroke-width="0.7"/>
<line x1="660.77" y1="107.50" x2="660.77" y2="108.80" stroke="#444" stroke-width="0.7"/>
<line x1="663.93" y1="107.50" x2="663.93" y2="108.80" stroke="#444" stroke-width="0.7"/>
<line x1="667.10" y1="107.50" x2="667.10" y2="109.70" stroke="#444" stroke-width="0.7"/>
<line x1="670.27" y1="107.50" x2="670.27" y2="108.80" stroke="#444" stroke-width="0.7"/>
<line x1="673.43" y1="107.50" x2="673.43" y2="108.80" stroke="#444" stroke-width="0.7"/>
<line x1="676.60" y1="107.50" x2="676.60" y2="109.70" stroke="#444" stroke-width="0.7"/>
<line x1="679.77" y1="107.50" x2="679.77" y2="108.80" stroke="#444" stroke-width="0.7"/>
<text x="0" y="0" transform="translate(605.20,119.20) scale(1.08,1)" font-size="6.204" fill="#333">10</text>
<text x="0" y="0" transform="translate(612.80,116.50) scale(1.08,1)" font-size="4.815" fill="#556">1.1</text>
<text x="0" y="0" transform="translate(632.50,119.20) scale(1.08,1)" font-size="6.204" fill="#333">10</text>
<text x="0" y="0" transform="translate(640.10,116.50) scale(1.08,1)" font-size="4.815" fill="#556">4</text>
<text x="0" y="0" transform="translate(651.70,119.20) scale(1.08,1)" font-size="6.204" fill="#333">10</text>
<text x="0" y="0" transform="translate(659.30,116.50) scale(1.08,1)" font-size="4.815" fill="#556">6</text>
<text x="0" y="0" transform="translate(672.80,119.20) scale(1.08,1)" font-size="6.204" fill="#333">10</text>
<path d="M654.50,107.50 C656.00,104.50 657.00,50.00 658.10,50.00 C659.10,50.00 660.00,103.50 662.10,107.50Z" fill="#f8f2de" stroke="#c39a2e" stroke-width="0.8"/>
<path d="M628.40,107.50 Q630.40,106.00 632.40,107.50" fill="#f8f2de" stroke="#c39a2e" stroke-width="0.8"/>
<text x="0" y="0" transform="translate(632.90,54.60) scale(1.08,1)" font-size="11.111" text-anchor="middle">CD8</text>
<text x="0" y="0" transform="translate(611.40,68.40) scale(1.08,1)" font-size="11.111">CFSE<tspan font-size="7" dy="-3.5">low</tspan></text>
<text x="0" y="0" transform="translate(632.40,83.40) scale(1.08,1)" font-size="11.111" text-anchor="middle">3.02%</text>
<path d="M614.70,82.80V89.80M614.70,86.30H650.70M650.70,82.80V89.80" fill="none" stroke="#555" stroke-width="0.9"/>
<line x1="681.40" y1="121.20" x2="681.40" y2="184.80" stroke="#d4d4d4" stroke-width="0.9"/>
<line x1="609.40" y1="121.20" x2="681.40" y2="121.20" stroke="#3a3a3a" stroke-width="1.0"/>
<path d="M609.40,121.20V184.80H681.40" fill="none" stroke="#3a3a3a" stroke-width="1.0"/>
<line x1="607.40" y1="184.80" x2="609.40" y2="184.80" stroke="#444" stroke-width="0.8"/>
<text x="0" y="0" transform="translate(603.60,184.80) rotate(-90) scale(1,1.0)" font-size="6.6" text-anchor="middle" fill="#4a4a4a">0</text>
<line x1="607.40" y1="162.20" x2="609.40" y2="162.20" stroke="#444" stroke-width="0.8"/>
<text x="0" y="0" transform="translate(603.60,162.20) rotate(-90) scale(1,1.0)" font-size="6.6" text-anchor="middle" fill="#4a4a4a">20</text>
<line x1="607.40" y1="139.60" x2="609.40" y2="139.60" stroke="#444" stroke-width="0.8"/>
<text x="0" y="0" transform="translate(603.60,139.60) rotate(-90) scale(1,1.0)" font-size="6.6" text-anchor="middle" fill="#4a4a4a">40</text>
<line x1="607.40" y1="122.80" x2="609.40" y2="122.80" stroke="#444" stroke-width="0.8"/>
<text x="0" y="0" transform="translate(603.60,122.80) rotate(-90) scale(1,1.0)" font-size="6.6" text-anchor="middle" fill="#4a4a4a">6</text>
<line x1="610.10" y1="184.80" x2="610.10" y2="187.00" stroke="#444" stroke-width="0.7"/>
<line x1="613.27" y1="184.80" x2="613.27" y2="186.10" stroke="#444" stroke-width="0.7"/>
<line x1="616.43" y1="184.80" x2="616.43" y2="186.10" stroke="#444" stroke-width="0.7"/>
<line x1="619.60" y1="184.80" x2="619.60" y2="187.00" stroke="#444" stroke-width="0.7"/>
<line x1="622.77" y1="184.80" x2="622.77" y2="186.10" stroke="#444" stroke-width="0.7"/>
<line x1="625.93" y1="184.80" x2="625.93" y2="186.10" stroke="#444" stroke-width="0.7"/>
<line x1="629.10" y1="184.80" x2="629.10" y2="187.00" stroke="#444" stroke-width="0.7"/>
<line x1="632.27" y1="184.80" x2="632.27" y2="186.10" stroke="#444" stroke-width="0.7"/>
<line x1="635.43" y1="184.80" x2="635.43" y2="186.10" stroke="#444" stroke-width="0.7"/>
<line x1="638.60" y1="184.80" x2="638.60" y2="187.00" stroke="#444" stroke-width="0.7"/>
<line x1="641.77" y1="184.80" x2="641.77" y2="186.10" stroke="#444" stroke-width="0.7"/>
<line x1="644.93" y1="184.80" x2="644.93" y2="186.10" stroke="#444" stroke-width="0.7"/>
<line x1="648.10" y1="184.80" x2="648.10" y2="187.00" stroke="#444" stroke-width="0.7"/>
<line x1="651.27" y1="184.80" x2="651.27" y2="186.10" stroke="#444" stroke-width="0.7"/>
<line x1="654.43" y1="184.80" x2="654.43" y2="186.10" stroke="#444" stroke-width="0.7"/>
<line x1="657.60" y1="184.80" x2="657.60" y2="187.00" stroke="#444" stroke-width="0.7"/>
<line x1="660.77" y1="184.80" x2="660.77" y2="186.10" stroke="#444" stroke-width="0.7"/>
<line x1="663.93" y1="184.80" x2="663.93" y2="186.10" stroke="#444" stroke-width="0.7"/>
<line x1="667.10" y1="184.80" x2="667.10" y2="187.00" stroke="#444" stroke-width="0.7"/>
<line x1="670.27" y1="184.80" x2="670.27" y2="186.10" stroke="#444" stroke-width="0.7"/>
<line x1="673.43" y1="184.80" x2="673.43" y2="186.10" stroke="#444" stroke-width="0.7"/>
<line x1="676.60" y1="184.80" x2="676.60" y2="187.00" stroke="#444" stroke-width="0.7"/>
<line x1="679.77" y1="184.80" x2="679.77" y2="186.10" stroke="#444" stroke-width="0.7"/>
<text x="0" y="0" transform="translate(605.20,196.50) scale(1.08,1)" font-size="6.204" fill="#333">10</text>
<text x="0" y="0" transform="translate(612.80,193.80) scale(1.08,1)" font-size="4.815" fill="#556">1.1</text>
<text x="0" y="0" transform="translate(632.50,196.50) scale(1.08,1)" font-size="6.204" fill="#333">10</text>
<text x="0" y="0" transform="translate(640.10,193.80) scale(1.08,1)" font-size="4.815" fill="#556">4</text>
<text x="0" y="0" transform="translate(651.70,196.50) scale(1.08,1)" font-size="6.204" fill="#333">10</text>
<text x="0" y="0" transform="translate(659.30,193.80) scale(1.08,1)" font-size="4.815" fill="#556">6</text>
<text x="0" y="0" transform="translate(672.80,196.50) scale(1.08,1)" font-size="6.204" fill="#333">10</text>
<path d="M654.50,184.80 C656.00,181.80 657.00,127.50 658.10,127.50 C659.10,127.50 660.00,180.80 662.10,184.80Z" fill="#f8f2de" stroke="#c39a2e" stroke-width="0.8"/>
<path d="M628.40,184.80 Q630.40,171.80 632.40,184.80" fill="#f8f2de" stroke="#c39a2e" stroke-width="0.8"/>
<text x="0" y="0" transform="translate(632.90,131.40) scale(1.08,1)" font-size="11.111" text-anchor="middle">CD8</text>
<text x="0" y="0" transform="translate(611.40,145.20) scale(1.08,1)" font-size="11.111">CFSE<tspan font-size="7" dy="-3.5">low</tspan></text>
<text x="0" y="0" transform="translate(632.40,160.20) scale(1.08,1)" font-size="11.111" text-anchor="middle">10.27%</text>
<path d="M614.70,159.60V166.60M614.70,163.10H650.70M650.70,159.60V166.60" fill="none" stroke="#555" stroke-width="0.9"/>
<text x="0" y="0" transform="translate(331.00,83.20) rotate(-90) scale(1,1.0)" font-size="13.2" text-anchor="middle">WT</text>
<text x="0" y="0" transform="translate(329.00,156.60) rotate(-90) scale(1,1.0)" font-size="13.6" text-anchor="middle" font-style="italic">Tmem175<tspan font-size="8.3" dy="-4.7">-/-</tspan></text>
<text x="0" y="0" transform="translate(341.00,162.40) rotate(-90) scale(1,1.0)" font-size="13.6" text-anchor="middle">Count</text>
<line x1="342.60" y1="191.00" x2="342.60" y2="131.10" stroke="#202020" stroke-width="1.1"/>
<path d="M342.60,123.00L338.50,131.60L346.70,131.60Z" fill="#202020"/>
<line x1="356.00" y1="197.20" x2="434.50" y2="197.20" stroke="#202020" stroke-width="1.1"/>
<path d="M443.00,197.20L434.00,193.60L434.00,200.80Z" fill="#202020"/>
<text x="0" y="0" transform="translate(394.60,209.60) scale(1.08,1)" font-size="12.778" text-anchor="middle">FITC-CFSE</text>
<circle cx="31.9" cy="219.3" r="2.4" fill="#5050ff"/>
<text x="57.00" y="223.50" font-size="13.4">WT</text>
<rect x="29.9" y="233.4" width="4.5" height="4.4" fill="#f03838"/>
<text x="57.00" y="240.80" font-size="13.4" font-style="italic">Tmem175<tspan font-size="8.5" dy="-5">-/-</tspan></text>
<text x="5.90" y="247.00" font-size="12" font-weight="bold">c</text>
<path d="M69.40,256.60V358.00H225.00" fill="none" stroke="#202020" stroke-width="1.3"/>
<line x1="66.40" y1="358.00" x2="69.40" y2="358.00" stroke="#202020" stroke-width="1.2"/>
<text x="63.50" y="362.06" font-size="13.3" text-anchor="end">0</text>
<line x1="66.40" y1="324.40" x2="69.40" y2="324.40" stroke="#202020" stroke-width="1.2"/>
<text x="63.50" y="328.46" font-size="13.3" text-anchor="end">10</text>
<line x1="66.40" y1="290.80" x2="69.40" y2="290.80" stroke="#202020" stroke-width="1.2"/>
<text x="63.50" y="294.86" font-size="13.3" text-anchor="end">20</text>
<line x1="66.40" y1="257.20" x2="69.40" y2="257.20" stroke="#202020" stroke-width="1.2"/>
<text x="63.50" y="261.26" font-size="13.3" text-anchor="end">30</text>
<line x1="86.80" y1="358.00" x2="86.80" y2="361.00" stroke="#202020" stroke-width="1.1"/>
<line x1="126.50" y1="358.00" x2="126.50" y2="361.00" stroke="#202020" stroke-width="1.1"/>
<line x1="165.50" y1="358.00" x2="165.50" y2="361.00" stroke="#202020" stroke-width="1.1"/>
<line x1="205.20" y1="358.00" x2="205.20" y2="361.00" stroke="#202020" stroke-width="1.1"/>
<rect x="74.60" y="351.95" width="9.60" height="6.05" fill="#c3c5fc" stroke="#5252ff" stroke-width="1.2"/>
<path d="M79.40,352.44V351.47M76.60,351.47H82.20" fill="none" stroke="#5252ff" stroke-width="1.1"/>
<circle cx="76.80" cy="350.61" r="2.4" fill="#5050ff"/>
<circle cx="82.00" cy="352.62" r="2.4" fill="#5050ff"/>
<circle cx="79.70" cy="353.97" r="2.4" fill="#5050ff"/>
<circle cx="77.00" cy="351.62" r="2.4" fill="#5050ff"/>
<circle cx="81.80" cy="349.94" r="2.4" fill="#5050ff"/>
<circle cx="78.90" cy="354.64" r="2.4" fill="#5050ff"/>
<rect x="89.40" y="335.82" width="9.60" height="22.18" fill="#f7e0e2" stroke="#f24646" stroke-width="1.2"/>
<path d="M94.20,337.60V334.05M91.40,334.05H97.00" fill="none" stroke="#f24646" stroke-width="1.1"/>
<rect x="89.30" y="328.15" width="4.6" height="4.6" fill="#f03838"/>
<rect x="94.50" y="330.50" width="4.6" height="4.6" fill="#f03838"/>
<rect x="92.20" y="334.53" width="4.6" height="4.6" fill="#f03838"/>
<rect x="89.50" y="336.88" width="4.6" height="4.6" fill="#f03838"/>
<rect x="94.30" y="345.62" width="4.6" height="4.6" fill="#f03838"/>
<rect x="91.40" y="332.85" width="4.6" height="4.6" fill="#f03838"/>
<rect x="114.30" y="348.59" width="9.60" height="9.41" fill="#c3c5fc" stroke="#5252ff" stroke-width="1.2"/>
<path d="M119.10,349.34V347.84M116.30,347.84H121.90" fill="none" stroke="#5252ff" stroke-width="1.1"/>
<circle cx="116.50" cy="347.92" r="2.4" fill="#5050ff"/>
<circle cx="121.70" cy="349.26" r="2.4" fill="#5050ff"/>
<circle cx="119.40" cy="348.26" r="2.4" fill="#5050ff"/>
<circle cx="116.70" cy="349.94" r="2.4" fill="#5050ff"/>
<circle cx="121.50" cy="347.25" r="2.4" fill="#5050ff"/>
<circle cx="118.60" cy="348.93" r="2.4" fill="#5050ff"/>
<rect x="129.10" y="330.78" width="9.60" height="27.22" fill="#f7e0e2" stroke="#f24646" stroke-width="1.2"/>
<path d="M133.90,332.96V328.61M131.10,328.61H136.70" fill="none" stroke="#f24646" stroke-width="1.1"/>
<rect x="129.00" y="319.41" width="4.6" height="4.6" fill="#f03838"/>
<rect x="134.20" y="321.43" width="4.6" height="4.6" fill="#f03838"/>
<rect x="131.90" y="328.82" width="4.6" height="4.6" fill="#f03838"/>
<rect x="129.20" y="330.50" width="4.6" height="4.6" fill="#f03838"/>
<rect x="134.00" y="331.84" width="4.6" height="4.6" fill="#f03838"/>
<rect x="131.10" y="327.48" width="4.6" height="4.6" fill="#f03838"/>
<rect x="153.30" y="344.56" width="9.60" height="13.44" fill="#c3c5fc" stroke="#5252ff" stroke-width="1.2"/>
<path d="M158.10,345.64V343.48M155.30,343.48H160.90" fill="none" stroke="#5252ff" stroke-width="1.1"/>
<circle cx="155.50" cy="342.54" r="2.4" fill="#5050ff"/>
<circle cx="160.70" cy="343.22" r="2.4" fill="#5050ff"/>
<circle cx="158.40" cy="345.90" r="2.4" fill="#5050ff"/>
<circle cx="155.70" cy="347.25" r="2.4" fill="#5050ff"/>
<circle cx="160.50" cy="344.56" r="2.4" fill="#5050ff"/>
<circle cx="157.60" cy="343.89" r="2.4" fill="#5050ff"/>
<rect x="168.10" y="316.00" width="9.60" height="42.00" fill="#f7e0e2" stroke="#f24646" stroke-width="1.2"/>
<path d="M172.90,319.36V312.64M170.10,312.64H175.70" fill="none" stroke="#f24646" stroke-width="1.1"/>
<rect x="168.00" y="300.93" width="4.6" height="4.6" fill="#f03838"/>
<rect x="173.20" y="305.97" width="4.6" height="4.6" fill="#f03838"/>
<rect x="170.90" y="314.37" width="4.6" height="4.6" fill="#f03838"/>
<rect x="168.20" y="316.72" width="4.6" height="4.6" fill="#f03838"/>
<rect x="173.00" y="318.40" width="4.6" height="4.6" fill="#f03838"/>
<rect x="170.10" y="312.02" width="4.6" height="4.6" fill="#f03838"/>
<rect x="193.00" y="346.91" width="9.60" height="11.09" fill="#c3c5fc" stroke="#5252ff" stroke-width="1.2"/>
<path d="M197.80,347.80V346.02M195.00,346.02H200.60" fill="none" stroke="#5252ff" stroke-width="1.1"/>
<circle cx="195.20" cy="345.90" r="2.4" fill="#5050ff"/>
<circle cx="200.40" cy="347.25" r="2.4" fill="#5050ff"/>
<circle cx="198.10" cy="349.26" r="2.4" fill="#5050ff"/>
<circle cx="195.40" cy="347.92" r="2.4" fill="#5050ff"/>
<circle cx="200.20" cy="345.23" r="2.4" fill="#5050ff"/>
<circle cx="197.30" cy="348.59" r="2.4" fill="#5050ff"/>
<rect x="207.80" y="321.04" width="9.60" height="36.96" fill="#f7e0e2" stroke="#f24646" stroke-width="1.2"/>
<path d="M212.60,324.00V318.08M209.80,318.08H215.40" fill="none" stroke="#f24646" stroke-width="1.1"/>
<rect x="207.70" y="315.38" width="4.6" height="4.6" fill="#f03838"/>
<rect x="212.90" y="317.40" width="4.6" height="4.6" fill="#f03838"/>
<rect x="210.60" y="319.41" width="4.6" height="4.6" fill="#f03838"/>
<rect x="207.90" y="320.76" width="4.6" height="4.6" fill="#f03838"/>
<rect x="212.70" y="316.39" width="4.6" height="4.6" fill="#f03838"/>
<rect x="209.80" y="318.74" width="4.6" height="4.6" fill="#f03838"/>
<text x="0" y="0" transform="translate(17.00,308.80) rotate(-90) scale(1,1.0)" font-size="13.5" text-anchor="middle">CFSE<tspan font-size="9.2" dy="-5">low</tspan></text>
<text x="0" y="0" transform="translate(36.00,308.60) rotate(-90) scale(1,1.0)" font-size="13.8" text-anchor="middle">CD8<tspan font-size="9.5" dy="-5.2">+</tspan><tspan dy="5.2"> T cells (%)</tspan></text>
<text x="0" y="0" transform="translate(76.50,374.90) scale(1.08,1)" font-size="11.111" text-anchor="end">B16-F10-OVA</text>
<text x="0" y="0" transform="translate(86.80,374.90) scale(1.08,1)" font-size="11.111" text-anchor="middle">-</text>
<text x="0" y="0" transform="translate(126.50,374.90) scale(1.08,1)" font-size="11.111" text-anchor="middle">+</text>
<text x="0" y="0" transform="translate(165.50,374.90) scale(1.08,1)" font-size="11.111" text-anchor="middle">+</text>
<text x="0" y="0" transform="translate(205.20,374.90) scale(1.08,1)" font-size="11.111" text-anchor="middle">+</text>
<text x="0" y="0" transform="translate(76.50,388.00) scale(1.08,1)" font-size="11.111" text-anchor="end">IL-1β</text>
<text x="0" y="0" transform="translate(86.80,388.00) scale(1.08,1)" font-size="11.111" text-anchor="middle">-</text>
<text x="0" y="0" transform="translate(126.50,388.00) scale(1.08,1)" font-size="11.111" text-anchor="middle">-</text>
<text x="0" y="0" transform="translate(165.50,388.00) scale(1.08,1)" font-size="11.111" text-anchor="middle">+</text>
<text x="0" y="0" transform="translate(205.20,388.00) scale(1.08,1)" font-size="11.111" text-anchor="middle">-</text>
<text x="0" y="0" transform="translate(76.50,400.80) scale(1.08,1)" font-size="11.111" text-anchor="end">IL-18</text>
<text x="0" y="0" transform="translate(86.80,400.80) scale(1.08,1)" font-size="11.111" text-anchor="middle">-</text>
<text x="0" y="0" transform="translate(126.50,400.80) scale(1.08,1)" font-size="11.111" text-anchor="middle">-</text>
<text x="0" y="0" transform="translate(165.50,400.80) scale(1.08,1)" font-size="11.111" text-anchor="middle">-</text>
<text x="0" y="0" transform="translate(205.20,400.80) scale(1.08,1)" font-size="11.111" text-anchor="middle">+</text>
<path d="M79.40,298.90V295.30H94.20V298.90" fill="none" stroke="#222" stroke-width="1.0"/>
<text x="93.40" y="293.80" font-size="10.4" text-anchor="middle"><tspan font-style="italic">P</tspan>&lt;0.0001</text>
<path d="M119.10,289.40V285.80H133.90V289.40" fill="none" stroke="#222" stroke-width="1.0"/>
<text x="126.50" y="284.30" font-size="10.4" text-anchor="middle"><tspan font-style="italic">P</tspan>&lt;0.0001</text>
<path d="M158.10,298.90V295.30H172.90V298.90" fill="none" stroke="#222" stroke-width="1.0"/>
<text x="165.50" y="293.80" font-size="10.4" text-anchor="middle"><tspan font-style="italic">P</tspan>&lt;0.0001</text>
<path d="M197.80,289.40V285.80H212.60V289.40" fill="none" stroke="#222" stroke-width="1.0"/>
<text x="205.20" y="284.30" font-size="10.4" text-anchor="middle"><tspan font-style="italic">P</tspan>&lt;0.0001</text>
<path d="M79.40,275.20V271.60H197.80V275.20M119.10,271.60V275.20" fill="none" stroke="#222" stroke-width="1.0"/>
<text x="99.25" y="270.10" font-size="11.024000000000001" text-anchor="middle">ns</text>
<text x="158.45" y="270.10" font-size="11.024000000000001" text-anchor="middle">ns</text>
<path d="M94.20,264.60V261.00H212.60V264.60M133.90,261.00V264.60" fill="none" stroke="#222" stroke-width="1.0"/>
<text x="114.05" y="259.50" font-size="10.4" text-anchor="middle"><tspan font-style="italic">P</tspan>=0.0327</text>
<text x="173.25" y="259.50" font-size="10.4" text-anchor="middle"><tspan font-style="italic">P</tspan>=0.0171</text>
<path d="M119.10,249.60V246.00H158.10V249.60" fill="none" stroke="#222" stroke-width="1.0"/>
<text x="138.60" y="244.50" font-size="11.024000000000001" text-anchor="middle">ns</text>
<path d="M133.90,237.60V234.00H172.90V237.60" fill="none" stroke="#222" stroke-width="1.0"/>
<text x="153.40" y="232.50" font-size="10.4" text-anchor="middle"><tspan font-style="italic">P</tspan>&lt;0.0001</text>
<text x="239.40" y="246.80" font-size="12" font-weight="bold">d</text>
<path d="M300.70,256.10V358.20H453.60" fill="none" stroke="#202020" stroke-width="1.3"/>
<line x1="297.70" y1="358.20" x2="300.70" y2="358.20" stroke="#202020" stroke-width="1.2"/>
<text x="294.80" y="362.26" font-size="13.3" text-anchor="end">0</text>
<line x1="297.70" y1="337.90" x2="300.70" y2="337.90" stroke="#202020" stroke-width="1.2"/>
<text x="294.80" y="341.96" font-size="13.3" text-anchor="end">10</text>
<line x1="297.70" y1="317.60" x2="300.70" y2="317.60" stroke="#202020" stroke-width="1.2"/>
<text x="294.80" y="321.66" font-size="13.3" text-anchor="end">20</text>
<line x1="297.70" y1="297.30" x2="300.70" y2="297.30" stroke="#202020" stroke-width="1.2"/>
<text x="294.80" y="301.36" font-size="13.3" text-anchor="end">30</text>
<line x1="297.70" y1="277.00" x2="300.70" y2="277.00" stroke="#202020" stroke-width="1.2"/>
<text x="294.80" y="281.06" font-size="13.3" text-anchor="end">40</text>
<line x1="297.70" y1="256.70" x2="300.70" y2="256.70" stroke="#202020" stroke-width="1.2"/>
<text x="294.80" y="260.76" font-size="13.3" text-anchor="end">50</text>
<line x1="316.90" y1="358.20" x2="316.90" y2="361.20" stroke="#202020" stroke-width="1.1"/>
<line x1="356.60" y1="358.20" x2="356.60" y2="361.20" stroke="#202020" stroke-width="1.1"/>
<line x1="396.40" y1="358.20" x2="396.40" y2="361.20" stroke="#202020" stroke-width="1.1"/>
<line x1="435.90" y1="358.20" x2="435.90" y2="361.20" stroke="#202020" stroke-width="1.1"/>
<rect x="304.70" y="322.27" width="9.60" height="35.93" fill="#c3c5fc" stroke="#5252ff" stroke-width="1.2"/>
<path d="M309.50,323.28V321.25M306.70,321.25H312.30" fill="none" stroke="#5252ff" stroke-width="1.1"/>
<circle cx="306.90" cy="320.64" r="2.4" fill="#5050ff"/>
<circle cx="312.10" cy="322.68" r="2.4" fill="#5050ff"/>
<circle cx="309.80" cy="323.69" r="2.4" fill="#5050ff"/>
<circle cx="307.10" cy="321.66" r="2.4" fill="#5050ff"/>
<circle cx="311.90" cy="323.08" r="2.4" fill="#5050ff"/>
<circle cx="309.00" cy="322.07" r="2.4" fill="#5050ff"/>
<rect x="319.50" y="317.60" width="9.60" height="40.60" fill="#f7e0e2" stroke="#f24646" stroke-width="1.2"/>
<path d="M324.30,319.43V315.77M321.50,315.77H327.10" fill="none" stroke="#f24646" stroke-width="1.1"/>
<rect x="319.40" y="308.40" width="4.6" height="4.6" fill="#f03838"/>
<rect x="324.60" y="313.27" width="4.6" height="4.6" fill="#f03838"/>
<rect x="322.30" y="314.28" width="4.6" height="4.6" fill="#f03838"/>
<rect x="319.60" y="316.31" width="4.6" height="4.6" fill="#f03838"/>
<rect x="324.40" y="319.36" width="4.6" height="4.6" fill="#f03838"/>
<rect x="321.50" y="320.38" width="4.6" height="4.6" fill="#f03838"/>
<rect x="344.40" y="316.99" width="9.60" height="41.21" fill="#c3c5fc" stroke="#5252ff" stroke-width="1.2"/>
<path d="M349.20,319.83V314.15M346.40,314.15H352.00" fill="none" stroke="#5252ff" stroke-width="1.1"/>
<circle cx="346.60" cy="310.50" r="2.4" fill="#5050ff"/>
<circle cx="351.80" cy="313.54" r="2.4" fill="#5050ff"/>
<circle cx="349.50" cy="315.57" r="2.4" fill="#5050ff"/>
<circle cx="346.80" cy="323.69" r="2.4" fill="#5050ff"/>
<circle cx="351.60" cy="326.74" r="2.4" fill="#5050ff"/>
<circle cx="348.70" cy="316.58" r="2.4" fill="#5050ff"/>
<rect x="359.20" y="306.44" width="9.60" height="51.76" fill="#f7e0e2" stroke="#f24646" stroke-width="1.2"/>
<path d="M364.00,307.65V305.22M361.20,305.22H366.80" fill="none" stroke="#f24646" stroke-width="1.1"/>
<rect x="359.10" y="300.07" width="4.6" height="4.6" fill="#f03838"/>
<rect x="364.30" y="301.09" width="4.6" height="4.6" fill="#f03838"/>
<rect x="362.00" y="303.12" width="4.6" height="4.6" fill="#f03838"/>
<rect x="359.30" y="305.15" width="4.6" height="4.6" fill="#f03838"/>
<rect x="364.10" y="306.16" width="4.6" height="4.6" fill="#f03838"/>
<rect x="361.20" y="307.18" width="4.6" height="4.6" fill="#f03838"/>
<rect x="384.20" y="313.13" width="9.60" height="45.07" fill="#c3c5fc" stroke="#5252ff" stroke-width="1.2"/>
<path d="M389.00,314.35V311.92M386.20,311.92H391.80" fill="none" stroke="#5252ff" stroke-width="1.1"/>
<circle cx="386.40" cy="310.50" r="2.4" fill="#5050ff"/>
<circle cx="391.60" cy="312.52" r="2.4" fill="#5050ff"/>
<circle cx="389.30" cy="313.54" r="2.4" fill="#5050ff"/>
<circle cx="386.60" cy="315.57" r="2.4" fill="#5050ff"/>
<circle cx="391.40" cy="316.58" r="2.4" fill="#5050ff"/>
<circle cx="388.50" cy="313.54" r="2.4" fill="#5050ff"/>
<rect x="399.00" y="307.86" width="9.60" height="50.34" fill="#f7e0e2" stroke="#f24646" stroke-width="1.2"/>
<path d="M403.80,308.67V307.04M401.00,307.04H406.60" fill="none" stroke="#f24646" stroke-width="1.1"/>
<rect x="398.90" y="303.12" width="4.6" height="4.6" fill="#f03838"/>
<rect x="404.10" y="304.13" width="4.6" height="4.6" fill="#f03838"/>
<rect x="401.80" y="305.15" width="4.6" height="4.6" fill="#f03838"/>
<rect x="399.10" y="306.16" width="4.6" height="4.6" fill="#f03838"/>
<rect x="403.90" y="307.18" width="4.6" height="4.6" fill="#f03838"/>
<rect x="401.00" y="306.16" width="4.6" height="4.6" fill="#f03838"/>
<rect x="423.70" y="305.83" width="9.60" height="52.37" fill="#c3c5fc" stroke="#5252ff" stroke-width="1.2"/>
<path d="M428.50,306.44V305.22M425.70,305.22H431.30" fill="none" stroke="#5252ff" stroke-width="1.1"/>
<circle cx="425.90" cy="304.40" r="2.4" fill="#5050ff"/>
<circle cx="431.10" cy="305.42" r="2.4" fill="#5050ff"/>
<circle cx="428.80" cy="306.44" r="2.4" fill="#5050ff"/>
<circle cx="426.10" cy="307.45" r="2.4" fill="#5050ff"/>
<circle cx="430.90" cy="306.44" r="2.4" fill="#5050ff"/>
<circle cx="428.00" cy="305.42" r="2.4" fill="#5050ff"/>
<rect x="438.50" y="300.75" width="9.60" height="57.45" fill="#f7e0e2" stroke="#f24646" stroke-width="1.2"/>
<path d="M443.30,302.78V298.72M440.50,298.72H446.10" fill="none" stroke="#f24646" stroke-width="1.1"/>
<rect x="438.40" y="290.94" width="4.6" height="4.6" fill="#f03838"/>
<rect x="443.60" y="293.98" width="4.6" height="4.6" fill="#f03838"/>
<rect x="441.30" y="297.03" width="4.6" height="4.6" fill="#f03838"/>
<rect x="438.60" y="299.06" width="4.6" height="4.6" fill="#f03838"/>
<rect x="443.40" y="301.09" width="4.6" height="4.6" fill="#f03838"/>
<rect x="440.50" y="302.10" width="4.6" height="4.6" fill="#f03838"/>
<text x="0" y="0" transform="translate(248.20,309.80) rotate(-90) scale(1,1.0)" font-size="13.4" text-anchor="middle">OVA-tetramer<tspan font-size="9.5" dy="-5.2">+</tspan></text>
<text x="0" y="0" transform="translate(268.00,309.20) rotate(-90) scale(1,1.0)" font-size="13.8" text-anchor="middle">CD8<tspan font-size="9.5" dy="-5.2">+</tspan><tspan dy="5.2"> T cells (%)</tspan></text>
<text x="0" y="0" transform="translate(308.10,374.90) scale(1.08,1)" font-size="11.111" text-anchor="end">B16-F10-OVA</text>
<text x="0" y="0" transform="translate(318.30,374.90) scale(1.08,1)" font-size="11.111" text-anchor="middle">-</text>
<text x="0" y="0" transform="translate(358.00,374.90) scale(1.08,1)" font-size="11.111" text-anchor="middle">+</text>
<text x="0" y="0" transform="translate(397.80,374.90) scale(1.08,1)" font-size="11.111" text-anchor="middle">+</text>
<text x="0" y="0" transform="translate(437.30,374.90) scale(1.08,1)" font-size="11.111" text-anchor="middle">+</text>
<text x="0" y="0" transform="translate(308.10,388.00) scale(1.08,1)" font-size="11.111" text-anchor="end">IL-1β</text>
<text x="0" y="0" transform="translate(318.30,388.00) scale(1.08,1)" font-size="11.111" text-anchor="middle">-</text>
<text x="0" y="0" transform="translate(358.00,388.00) scale(1.08,1)" font-size="11.111" text-anchor="middle">-</text>
<text x="0" y="0" transform="translate(397.80,388.00) scale(1.08,1)" font-size="11.111" text-anchor="middle">+</text>
<text x="0" y="0" transform="translate(437.30,388.00) scale(1.08,1)" font-size="11.111" text-anchor="middle">-</text>
<text x="0" y="0" transform="translate(308.10,400.80) scale(1.08,1)" font-size="11.111" text-anchor="end">IL-18</text>
<text x="0" y="0" transform="translate(318.30,400.80) scale(1.08,1)" font-size="11.111" text-anchor="middle">-</text>
<text x="0" y="0" transform="translate(358.00,400.80) scale(1.08,1)" font-size="11.111" text-anchor="middle">-</text>
<text x="0" y="0" transform="translate(397.80,400.80) scale(1.08,1)" font-size="11.111" text-anchor="middle">-</text>
<text x="0" y="0" transform="translate(437.30,400.80) scale(1.08,1)" font-size="11.111" text-anchor="middle">+</text>
<path d="M309.50,297.90V294.30H324.30V297.90" fill="none" stroke="#222" stroke-width="1.0"/>
<text x="316.90" y="292.80" font-size="11.024000000000001" text-anchor="middle">ns</text>
<path d="M349.20,288.60V285.00H364.00V288.60" fill="none" stroke="#222" stroke-width="1.0"/>
<text x="356.60" y="283.50" font-size="10.4" text-anchor="middle"><tspan font-style="italic">P</tspan>=0.0002</text>
<path d="M389.00,297.90V294.30H403.80V297.90" fill="none" stroke="#222" stroke-width="1.0"/>
<text x="396.40" y="292.80" font-size="10.4" text-anchor="middle"><tspan font-style="italic">P</tspan>=0.0300</text>
<path d="M428.50,288.60V285.00H443.30V288.60" fill="none" stroke="#222" stroke-width="1.0"/>
<text x="435.90" y="283.50" font-size="10.4" text-anchor="middle"><tspan font-style="italic">P</tspan>=0.0207</text>
<path d="M309.50,273.90V270.30H428.50V273.90M349.20,270.30V273.90" fill="none" stroke="#222" stroke-width="1.0"/>
<text x="329.35" y="268.80" font-size="11.024000000000001" text-anchor="middle">ns</text>
<text x="388.85" y="268.80" font-size="10.4" text-anchor="middle"><tspan font-style="italic">P</tspan>&lt;0.0001</text>
<path d="M324.30,262.60V259.00H443.30V262.60M364.00,259.00V262.60" fill="none" stroke="#222" stroke-width="1.0"/>
<text x="344.15" y="257.50" font-size="10.4" text-anchor="middle"><tspan font-style="italic">P</tspan>&lt;0.0001</text>
<text x="403.65" y="257.50" font-size="10.4" text-anchor="middle"><tspan font-style="italic">P</tspan>=0.0080</text>
<path d="M349.20,249.10V245.50H389.00V249.10" fill="none" stroke="#222" stroke-width="1.0"/>
<text x="369.10" y="244.00" font-size="11.024000000000001" text-anchor="middle">ns</text>
<path d="M364.00,237.30V233.70H403.80V237.30" fill="none" stroke="#222" stroke-width="1.0"/>
<text x="383.90" y="232.20" font-size="11.024000000000001" text-anchor="middle">ns</text>
<text x="467.80" y="247.30" font-size="12" font-weight="bold">e</text>
<path d="M530.10,256.30V358.70H684.00" fill="none" stroke="#202020" stroke-width="1.3"/>
<line x1="527.10" y1="358.70" x2="530.10" y2="358.70" stroke="#202020" stroke-width="1.2"/>
<text x="524.20" y="362.76" font-size="13.3" text-anchor="end">0</text>
<line x1="527.10" y1="333.25" x2="530.10" y2="333.25" stroke="#202020" stroke-width="1.2"/>
<text x="524.20" y="337.31" font-size="13.3" text-anchor="end">2</text>
<line x1="527.10" y1="307.80" x2="530.10" y2="307.80" stroke="#202020" stroke-width="1.2"/>
<text x="524.20" y="311.86" font-size="13.3" text-anchor="end">4</text>
<line x1="527.10" y1="282.35" x2="530.10" y2="282.35" stroke="#202020" stroke-width="1.2"/>
<text x="524.20" y="286.41" font-size="13.3" text-anchor="end">6</text>
<line x1="527.10" y1="256.90" x2="530.10" y2="256.90" stroke="#202020" stroke-width="1.2"/>
<text x="524.20" y="260.96" font-size="13.3" text-anchor="end">8</text>
<line x1="547.50" y1="358.70" x2="547.50" y2="361.70" stroke="#202020" stroke-width="1.1"/>
<line x1="586.80" y1="358.70" x2="586.80" y2="361.70" stroke="#202020" stroke-width="1.1"/>
<line x1="626.10" y1="358.70" x2="626.10" y2="361.70" stroke="#202020" stroke-width="1.1"/>
<line x1="665.60" y1="358.70" x2="665.60" y2="361.70" stroke="#202020" stroke-width="1.1"/>
<rect x="535.30" y="349.16" width="9.60" height="9.54" fill="#c3c5fc" stroke="#5252ff" stroke-width="1.2"/>
<path d="M540.10,350.17V348.14M537.30,348.14H542.90" fill="none" stroke="#5252ff" stroke-width="1.1"/>
<circle cx="537.50" cy="345.97" r="2.4" fill="#5050ff"/>
<circle cx="542.70" cy="347.25" r="2.4" fill="#5050ff"/>
<circle cx="540.40" cy="349.79" r="2.4" fill="#5050ff"/>
<circle cx="537.70" cy="351.06" r="2.4" fill="#5050ff"/>
<circle cx="542.50" cy="348.52" r="2.4" fill="#5050ff"/>
<circle cx="539.60" cy="352.34" r="2.4" fill="#5050ff"/>
<rect x="550.10" y="338.34" width="9.60" height="20.36" fill="#f7e0e2" stroke="#f24646" stroke-width="1.2"/>
<path d="M554.90,340.25V336.43M552.10,336.43H557.70" fill="none" stroke="#f24646" stroke-width="1.1"/>
<rect x="550.00" y="330.95" width="4.6" height="4.6" fill="#f03838"/>
<rect x="555.20" y="332.22" width="4.6" height="4.6" fill="#f03838"/>
<rect x="552.90" y="336.04" width="4.6" height="4.6" fill="#f03838"/>
<rect x="550.20" y="338.58" width="4.6" height="4.6" fill="#f03838"/>
<rect x="555.00" y="341.13" width="4.6" height="4.6" fill="#f03838"/>
<rect x="552.10" y="334.77" width="4.6" height="4.6" fill="#f03838"/>
<rect x="574.60" y="333.25" width="9.60" height="25.45" fill="#c3c5fc" stroke="#5252ff" stroke-width="1.2"/>
<path d="M579.40,334.78V331.72M576.60,331.72H582.20" fill="none" stroke="#5252ff" stroke-width="1.1"/>
<circle cx="576.80" cy="328.16" r="2.4" fill="#5050ff"/>
<circle cx="582.00" cy="330.70" r="2.4" fill="#5050ff"/>
<circle cx="579.70" cy="333.25" r="2.4" fill="#5050ff"/>
<circle cx="577.00" cy="335.79" r="2.4" fill="#5050ff"/>
<circle cx="581.80" cy="338.34" r="2.4" fill="#5050ff"/>
<circle cx="578.90" cy="331.98" r="2.4" fill="#5050ff"/>
<rect x="589.40" y="325.62" width="9.60" height="33.08" fill="#f7e0e2" stroke="#f24646" stroke-width="1.2"/>
<path d="M594.20,327.40V323.83M591.40,323.83H597.00" fill="none" stroke="#f24646" stroke-width="1.1"/>
<rect x="589.30" y="315.68" width="4.6" height="4.6" fill="#f03838"/>
<rect x="594.50" y="319.50" width="4.6" height="4.6" fill="#f03838"/>
<rect x="592.20" y="320.77" width="4.6" height="4.6" fill="#f03838"/>
<rect x="589.50" y="323.31" width="4.6" height="4.6" fill="#f03838"/>
<rect x="594.30" y="325.86" width="4.6" height="4.6" fill="#f03838"/>
<rect x="591.40" y="328.40" width="4.6" height="4.6" fill="#f03838"/>
<rect x="613.90" y="326.89" width="9.60" height="31.81" fill="#c3c5fc" stroke="#5252ff" stroke-width="1.2"/>
<path d="M618.70,327.78V326.00M615.90,326.00H621.50" fill="none" stroke="#5252ff" stroke-width="1.1"/>
<circle cx="616.10" cy="324.34" r="2.4" fill="#5050ff"/>
<circle cx="621.30" cy="325.62" r="2.4" fill="#5050ff"/>
<circle cx="619.00" cy="326.89" r="2.4" fill="#5050ff"/>
<circle cx="616.30" cy="328.16" r="2.4" fill="#5050ff"/>
<circle cx="621.10" cy="326.89" r="2.4" fill="#5050ff"/>
<circle cx="618.20" cy="329.43" r="2.4" fill="#5050ff"/>
<rect x="628.70" y="312.89" width="9.60" height="45.81" fill="#f7e0e2" stroke="#f24646" stroke-width="1.2"/>
<path d="M633.50,316.07V309.71M630.70,309.71H636.30" fill="none" stroke="#f24646" stroke-width="1.1"/>
<rect x="628.60" y="297.86" width="4.6" height="4.6" fill="#f03838"/>
<rect x="633.80" y="306.77" width="4.6" height="4.6" fill="#f03838"/>
<rect x="631.50" y="309.32" width="4.6" height="4.6" fill="#f03838"/>
<rect x="628.80" y="311.86" width="4.6" height="4.6" fill="#f03838"/>
<rect x="633.60" y="314.41" width="4.6" height="4.6" fill="#f03838"/>
<rect x="630.70" y="316.95" width="4.6" height="4.6" fill="#f03838"/>
<rect x="653.40" y="333.25" width="9.60" height="25.45" fill="#c3c5fc" stroke="#5252ff" stroke-width="1.2"/>
<path d="M658.20,334.90V331.60M655.40,331.60H661.00" fill="none" stroke="#5252ff" stroke-width="1.1"/>
<circle cx="655.60" cy="326.89" r="2.4" fill="#5050ff"/>
<circle cx="660.80" cy="330.70" r="2.4" fill="#5050ff"/>
<circle cx="658.50" cy="331.98" r="2.4" fill="#5050ff"/>
<circle cx="655.80" cy="334.52" r="2.4" fill="#5050ff"/>
<circle cx="660.60" cy="338.34" r="2.4" fill="#5050ff"/>
<circle cx="657.70" cy="333.25" r="2.4" fill="#5050ff"/>
<rect x="668.20" y="312.89" width="9.60" height="45.81" fill="#f7e0e2" stroke="#f24646" stroke-width="1.2"/>
<path d="M673.00,316.71V309.07M670.20,309.07H675.80" fill="none" stroke="#f24646" stroke-width="1.1"/>
<rect x="668.10" y="297.86" width="4.6" height="4.6" fill="#f03838"/>
<rect x="673.30" y="301.68" width="4.6" height="4.6" fill="#f03838"/>
<rect x="671.00" y="308.04" width="4.6" height="4.6" fill="#f03838"/>
<rect x="668.30" y="313.13" width="4.6" height="4.6" fill="#f03838"/>
<rect x="673.10" y="315.68" width="4.6" height="4.6" fill="#f03838"/>
<rect x="670.20" y="320.77" width="4.6" height="4.6" fill="#f03838"/>
<text x="0" y="0" transform="translate(489.30,309.30) rotate(-90) scale(1,1.0)" font-size="13.6" text-anchor="middle">CD8<tspan font-size="9.5" dy="-5.2">+</tspan><tspan dy="5.2"> CD69</tspan><tspan font-size="9.5" dy="-5.2">+</tspan></text>
<text x="0" y="0" transform="translate(506.60,308.60) rotate(-90) scale(1,1.0)" font-size="13.3" text-anchor="middle">cells (%)</text>
<text x="0" y="0" transform="translate(537.20,374.90) scale(1.08,1)" font-size="11.111" text-anchor="end">B16-F10-OVA</text>
<text x="0" y="0" transform="translate(547.50,374.90) scale(1.08,1)" font-size="11.111" text-anchor="middle">-</text>
<text x="0" y="0" transform="translate(586.80,374.90) scale(1.08,1)" font-size="11.111" text-anchor="middle">+</text>
<text x="0" y="0" transform="translate(626.10,374.90) scale(1.08,1)" font-size="11.111" text-anchor="middle">+</text>
<text x="0" y="0" transform="translate(665.60,374.90) scale(1.08,1)" font-size="11.111" text-anchor="middle">+</text>
<text x="0" y="0" transform="translate(537.20,388.00) scale(1.08,1)" font-size="11.111" text-anchor="end">IL-1β</text>
<text x="0" y="0" transform="translate(547.50,388.00) scale(1.08,1)" font-size="11.111" text-anchor="middle">-</text>
<text x="0" y="0" transform="translate(586.80,388.00) scale(1.08,1)" font-size="11.111" text-anchor="middle">-</text>
<text x="0" y="0" transform="translate(626.10,388.00) scale(1.08,1)" font-size="11.111" text-anchor="middle">+</text>
<text x="0" y="0" transform="translate(665.60,388.00) scale(1.08,1)" font-size="11.111" text-anchor="middle">-</text>
<text x="0" y="0" transform="translate(537.20,400.80) scale(1.08,1)" font-size="11.111" text-anchor="end">IL-18</text>
<text x="0" y="0" transform="translate(547.50,400.80) scale(1.08,1)" font-size="11.111" text-anchor="middle">-</text>
<text x="0" y="0" transform="translate(586.80,400.80) scale(1.08,1)" font-size="11.111" text-anchor="middle">-</text>
<text x="0" y="0" transform="translate(626.10,400.80) scale(1.08,1)" font-size="11.111" text-anchor="middle">-</text>
<text x="0" y="0" transform="translate(665.60,400.80) scale(1.08,1)" font-size="11.111" text-anchor="middle">+</text>
<path d="M540.10,284.40V280.80H554.90V284.40" fill="none" stroke="#222" stroke-width="1.0"/>
<text x="553.60" y="279.30" font-size="10.4" text-anchor="middle"><tspan font-style="italic">P</tspan>=0.0198</text>
<path d="M579.40,293.80V290.20H594.20V293.80" fill="none" stroke="#222" stroke-width="1.0"/>
<text x="586.80" y="288.70" font-size="10.4" text-anchor="middle"><tspan font-style="italic">P</tspan>=0.0445</text>
<path d="M618.70,284.40V280.80H633.50V284.40" fill="none" stroke="#222" stroke-width="1.0"/>
<text x="626.10" y="279.30" font-size="10.4" text-anchor="middle"><tspan font-style="italic">P</tspan>=0.0001</text>
<path d="M658.20,293.80V290.20H673.00V293.80" fill="none" stroke="#222" stroke-width="1.0"/>
<text x="659.50" y="288.70" font-size="10.4" text-anchor="middle"><tspan font-style="italic">P</tspan>&lt;0.0001</text>
<path d="M540.10,272.10V268.50H658.20V272.10M579.40,268.50V272.10" fill="none" stroke="#222" stroke-width="1.0"/>
<text x="559.75" y="267.00" font-size="10.4" text-anchor="middle"><tspan font-style="italic">P</tspan>=0.0002</text>
<text x="618.80" y="267.00" font-size="11.024000000000001" text-anchor="middle">ns</text>
<path d="M554.90,258.50V254.90H673.00V258.50M594.20,254.90V258.50" fill="none" stroke="#222" stroke-width="1.0"/>
<text x="574.55" y="253.40" font-size="10.4" text-anchor="middle"><tspan font-style="italic">P</tspan>=0.0005</text>
<text x="633.60" y="253.40" font-size="10.4" text-anchor="middle"><tspan font-style="italic">P</tspan>=0.0071</text>
<path d="M579.40,244.80V241.20H618.70V244.80" fill="none" stroke="#222" stroke-width="1.0"/>
<text x="599.05" y="239.70" font-size="11.024000000000001" text-anchor="middle">ns</text>
<path d="M594.20,232.50V228.90H633.50V232.50" fill="none" stroke="#222" stroke-width="1.0"/>
<text x="613.85" y="227.40" font-size="10.4" text-anchor="middle"><tspan font-style="italic">P</tspan>=0.0043</text>
<text x="7.20" y="420.30" font-size="12" font-weight="bold">f</text>
<path d="M69.90,429.90V532.10H222.80" fill="none" stroke="#202020" stroke-width="1.3"/>
<line x1="66.90" y1="532.10" x2="69.90" y2="532.10" stroke="#202020" stroke-width="1.2"/>
<text x="64.00" y="536.16" font-size="13.3" text-anchor="end">0</text>
<line x1="66.90" y1="515.17" x2="69.90" y2="515.17" stroke="#202020" stroke-width="1.2"/>
<text x="64.00" y="519.22" font-size="13.3" text-anchor="end">3</text>
<line x1="66.90" y1="498.23" x2="69.90" y2="498.23" stroke="#202020" stroke-width="1.2"/>
<text x="64.00" y="502.29" font-size="13.3" text-anchor="end">6</text>
<line x1="66.90" y1="481.30" x2="69.90" y2="481.30" stroke="#202020" stroke-width="1.2"/>
<text x="64.00" y="485.36" font-size="13.3" text-anchor="end">9</text>
<line x1="66.90" y1="464.37" x2="69.90" y2="464.37" stroke="#202020" stroke-width="1.2"/>
<text x="64.00" y="468.42" font-size="13.3" text-anchor="end">12</text>
<line x1="66.90" y1="447.43" x2="69.90" y2="447.43" stroke="#202020" stroke-width="1.2"/>
<text x="64.00" y="451.49" font-size="13.3" text-anchor="end">15</text>
<line x1="66.90" y1="430.50" x2="69.90" y2="430.50" stroke="#202020" stroke-width="1.2"/>
<text x="64.00" y="434.56" font-size="13.3" text-anchor="end">18</text>
<line x1="86.40" y1="532.10" x2="86.40" y2="535.10" stroke="#202020" stroke-width="1.1"/>
<line x1="126.00" y1="532.10" x2="126.00" y2="535.10" stroke="#202020" stroke-width="1.1"/>
<line x1="165.20" y1="532.10" x2="165.20" y2="535.10" stroke="#202020" stroke-width="1.1"/>
<line x1="204.90" y1="532.10" x2="204.90" y2="535.10" stroke="#202020" stroke-width="1.1"/>
<rect x="74.20" y="525.89" width="9.60" height="6.21" fill="#c3c5fc" stroke="#5252ff" stroke-width="1.2"/>
<path d="M79.00,526.17V525.61M76.20,525.61H81.80" fill="none" stroke="#5252ff" stroke-width="1.1"/>
<circle cx="76.40" cy="524.76" r="2.4" fill="#5050ff"/>
<circle cx="81.60" cy="525.33" r="2.4" fill="#5050ff"/>
<circle cx="79.30" cy="525.89" r="2.4" fill="#5050ff"/>
<circle cx="76.60" cy="526.46" r="2.4" fill="#5050ff"/>
<circle cx="81.40" cy="527.02" r="2.4" fill="#5050ff"/>
<circle cx="78.50" cy="525.33" r="2.4" fill="#5050ff"/>
<rect x="89.00" y="526.46" width="9.60" height="5.64" fill="#f7e0e2" stroke="#f24646" stroke-width="1.2"/>
<path d="M93.80,526.62V526.29M91.00,526.29H96.60" fill="none" stroke="#f24646" stroke-width="1.1"/>
<rect x="88.90" y="523.59" width="4.6" height="4.6" fill="#f03838"/>
<rect x="94.10" y="523.59" width="4.6" height="4.6" fill="#f03838"/>
<rect x="91.80" y="524.16" width="4.6" height="4.6" fill="#f03838"/>
<rect x="89.10" y="524.16" width="4.6" height="4.6" fill="#f03838"/>
<rect x="93.90" y="524.72" width="4.6" height="4.6" fill="#f03838"/>
<rect x="91.00" y="524.16" width="4.6" height="4.6" fill="#f03838"/>
<rect x="113.80" y="515.17" width="9.60" height="16.93" fill="#c3c5fc" stroke="#5252ff" stroke-width="1.2"/>
<path d="M118.60,515.73V514.60M115.80,514.60H121.40" fill="none" stroke="#5252ff" stroke-width="1.1"/>
<circle cx="116.00" cy="512.91" r="2.4" fill="#5050ff"/>
<circle cx="121.20" cy="514.04" r="2.4" fill="#5050ff"/>
<circle cx="118.90" cy="515.17" r="2.4" fill="#5050ff"/>
<circle cx="116.20" cy="515.73" r="2.4" fill="#5050ff"/>
<circle cx="121.00" cy="516.30" r="2.4" fill="#5050ff"/>
<circle cx="118.10" cy="514.60" r="2.4" fill="#5050ff"/>
<rect x="128.60" y="505.01" width="9.60" height="27.09" fill="#f7e0e2" stroke="#f24646" stroke-width="1.2"/>
<path d="M133.40,505.85V504.16M130.60,504.16H136.20" fill="none" stroke="#f24646" stroke-width="1.1"/>
<rect x="128.50" y="499.32" width="4.6" height="4.6" fill="#f03838"/>
<rect x="133.70" y="500.45" width="4.6" height="4.6" fill="#f03838"/>
<rect x="131.40" y="502.14" width="4.6" height="4.6" fill="#f03838"/>
<rect x="128.70" y="503.27" width="4.6" height="4.6" fill="#f03838"/>
<rect x="133.50" y="504.40" width="4.6" height="4.6" fill="#f03838"/>
<rect x="130.60" y="501.58" width="4.6" height="4.6" fill="#f03838"/>
<rect x="153.00" y="488.07" width="9.60" height="44.03" fill="#c3c5fc" stroke="#5252ff" stroke-width="1.2"/>
<path d="M157.80,490.33V485.82M155.00,485.82H160.60" fill="none" stroke="#5252ff" stroke-width="1.1"/>
<circle cx="155.20" cy="477.91" r="2.4" fill="#5050ff"/>
<circle cx="160.40" cy="482.43" r="2.4" fill="#5050ff"/>
<circle cx="158.10" cy="486.94" r="2.4" fill="#5050ff"/>
<circle cx="155.40" cy="489.20" r="2.4" fill="#5050ff"/>
<circle cx="160.20" cy="491.46" r="2.4" fill="#5050ff"/>
<circle cx="157.30" cy="490.33" r="2.4" fill="#5050ff"/>
<rect x="167.80" y="486.38" width="9.60" height="45.72" fill="#f7e0e2" stroke="#f24646" stroke-width="1.2"/>
<path d="M172.60,487.51V485.25M169.80,485.25H175.40" fill="none" stroke="#f24646" stroke-width="1.1"/>
<rect x="167.70" y="475.61" width="4.6" height="4.6" fill="#f03838"/>
<rect x="172.90" y="480.13" width="4.6" height="4.6" fill="#f03838"/>
<rect x="170.60" y="481.26" width="4.6" height="4.6" fill="#f03838"/>
<rect x="167.90" y="482.95" width="4.6" height="4.6" fill="#f03838"/>
<rect x="172.70" y="484.64" width="4.6" height="4.6" fill="#f03838"/>
<rect x="169.80" y="481.82" width="4.6" height="4.6" fill="#f03838"/>
<rect x="192.70" y="503.31" width="9.60" height="28.79" fill="#c3c5fc" stroke="#5252ff" stroke-width="1.2"/>
<path d="M197.50,506.70V499.93M194.70,499.93H200.30" fill="none" stroke="#5252ff" stroke-width="1.1"/>
<circle cx="194.90" cy="493.72" r="2.4" fill="#5050ff"/>
<circle cx="200.10" cy="494.28" r="2.4" fill="#5050ff"/>
<circle cx="197.80" cy="501.06" r="2.4" fill="#5050ff"/>
<circle cx="195.10" cy="508.39" r="2.4" fill="#5050ff"/>
<circle cx="199.90" cy="512.34" r="2.4" fill="#5050ff"/>
<circle cx="197.00" cy="502.75" r="2.4" fill="#5050ff"/>
<rect x="207.50" y="501.06" width="9.60" height="31.04" fill="#f7e0e2" stroke="#f24646" stroke-width="1.2"/>
<path d="M212.30,501.90V500.21M209.50,500.21H215.10" fill="none" stroke="#f24646" stroke-width="1.1"/>
<rect x="207.40" y="495.37" width="4.6" height="4.6" fill="#f03838"/>
<rect x="212.60" y="495.93" width="4.6" height="4.6" fill="#f03838"/>
<rect x="210.30" y="497.63" width="4.6" height="4.6" fill="#f03838"/>
<rect x="207.60" y="498.76" width="4.6" height="4.6" fill="#f03838"/>
<rect x="212.40" y="500.45" width="4.6" height="4.6" fill="#f03838"/>
<rect x="209.50" y="496.50" width="4.6" height="4.6" fill="#f03838"/>
<text x="0" y="0" transform="translate(38.30,483.00) rotate(-90) scale(1,1.0)" font-size="13" text-anchor="middle">IFN-γ (pg/ml)</text>
<text x="0" y="0" transform="translate(76.50,548.90) scale(1.08,1)" font-size="11.111" text-anchor="end">B16-F10-OVA</text>
<text x="0" y="0" transform="translate(86.40,548.90) scale(1.08,1)" font-size="11.111" text-anchor="middle">-</text>
<text x="0" y="0" transform="translate(126.00,548.90) scale(1.08,1)" font-size="11.111" text-anchor="middle">+</text>
<text x="0" y="0" transform="translate(165.20,548.90) scale(1.08,1)" font-size="11.111" text-anchor="middle">+</text>
<text x="0" y="0" transform="translate(204.90,548.90) scale(1.08,1)" font-size="11.111" text-anchor="middle">+</text>
<text x="0" y="0" transform="translate(76.50,562.00) scale(1.08,1)" font-size="11.111" text-anchor="end">IL-1β</text>
<text x="0" y="0" transform="translate(86.40,562.00) scale(1.08,1)" font-size="11.111" text-anchor="middle">-</text>
<text x="0" y="0" transform="translate(126.00,562.00) scale(1.08,1)" font-size="11.111" text-anchor="middle">-</text>
<text x="0" y="0" transform="translate(165.20,562.00) scale(1.08,1)" font-size="11.111" text-anchor="middle">+</text>
<text x="0" y="0" transform="translate(204.90,562.00) scale(1.08,1)" font-size="11.111" text-anchor="middle">-</text>
<text x="0" y="0" transform="translate(76.50,574.80) scale(1.08,1)" font-size="11.111" text-anchor="end">IL-18</text>
<text x="0" y="0" transform="translate(86.40,574.80) scale(1.08,1)" font-size="11.111" text-anchor="middle">-</text>
<text x="0" y="0" transform="translate(126.00,574.80) scale(1.08,1)" font-size="11.111" text-anchor="middle">-</text>
<text x="0" y="0" transform="translate(165.20,574.80) scale(1.08,1)" font-size="11.111" text-anchor="middle">-</text>
<text x="0" y="0" transform="translate(204.90,574.80) scale(1.08,1)" font-size="11.111" text-anchor="middle">+</text>
<path d="M79.00,473.60V470.00H93.80V473.60" fill="none" stroke="#222" stroke-width="1.0"/>
<text x="86.40" y="468.50" font-size="11.024000000000001" text-anchor="middle">ns</text>
<path d="M118.60,477.90V474.30H133.40V477.90" fill="none" stroke="#222" stroke-width="1.0"/>
<text x="126.00" y="472.80" font-size="10.4" text-anchor="middle"><tspan font-style="italic">P</tspan>=0.0126</text>
<path d="M157.80,473.60V470.00H172.60V473.60" fill="none" stroke="#222" stroke-width="1.0"/>
<text x="165.20" y="468.50" font-size="11.024000000000001" text-anchor="middle">ns</text>
<path d="M197.50,477.90V474.30H212.30V477.90" fill="none" stroke="#222" stroke-width="1.0"/>
<text x="204.90" y="472.80" font-size="11.024000000000001" text-anchor="middle">ns</text>
<path d="M79.00,463.40V459.80H197.50V463.40M118.60,459.80V463.40" fill="none" stroke="#222" stroke-width="1.0"/>
<text x="98.80" y="458.30" font-size="10.4" text-anchor="middle"><tspan font-style="italic">P</tspan>=0.0011</text>
<text x="158.05" y="458.30" font-size="10.4" text-anchor="middle"><tspan font-style="italic">P</tspan>=0.0004</text>
<path d="M93.80,449.50V445.90H212.30V449.50M133.40,445.90V449.50" fill="none" stroke="#222" stroke-width="1.0"/>
<text x="113.60" y="444.40" font-size="10.4" text-anchor="middle"><tspan font-style="italic">P</tspan>&lt;0.0001</text>
<text x="172.85" y="444.40" font-size="11.024000000000001" text-anchor="middle">ns</text>
<path d="M118.60,435.20V431.60H157.80V435.20" fill="none" stroke="#222" stroke-width="1.0"/>
<text x="138.20" y="430.10" font-size="10.4" text-anchor="middle"><tspan font-style="italic">P</tspan>&lt;0.0001</text>
<path d="M133.40,420.90V417.30H172.60V420.90" fill="none" stroke="#222" stroke-width="1.0"/>
<text x="153.00" y="415.80" font-size="10.4" text-anchor="middle"><tspan font-style="italic">P</tspan>&lt;0.0001</text>
<text x="238.60" y="421.00" font-size="12" font-weight="bold">g</text>
<path d="M300.50,429.90V532.10H453.90" fill="none" stroke="#202020" stroke-width="1.3"/>
<line x1="297.50" y1="532.10" x2="300.50" y2="532.10" stroke="#202020" stroke-width="1.2"/>
<text x="294.60" y="536.16" font-size="13.3" text-anchor="end">0</text>
<line x1="297.50" y1="498.23" x2="300.50" y2="498.23" stroke="#202020" stroke-width="1.2"/>
<text x="294.60" y="502.29" font-size="13.3" text-anchor="end">200</text>
<line x1="297.50" y1="464.37" x2="300.50" y2="464.37" stroke="#202020" stroke-width="1.2"/>
<text x="294.60" y="468.42" font-size="13.3" text-anchor="end">400</text>
<line x1="297.50" y1="430.50" x2="300.50" y2="430.50" stroke="#202020" stroke-width="1.2"/>
<text x="294.60" y="434.56" font-size="13.3" text-anchor="end">600</text>
<line x1="317.90" y1="532.10" x2="317.90" y2="535.10" stroke="#202020" stroke-width="1.1"/>
<line x1="357.50" y1="532.10" x2="357.50" y2="535.10" stroke="#202020" stroke-width="1.1"/>
<line x1="396.60" y1="532.10" x2="396.60" y2="535.10" stroke="#202020" stroke-width="1.1"/>
<line x1="436.00" y1="532.10" x2="436.00" y2="535.10" stroke="#202020" stroke-width="1.1"/>
<rect x="305.70" y="530.07" width="9.60" height="2.03" fill="#c3c5fc" stroke="#5252ff" stroke-width="1.2"/>
<path d="M310.50,530.24V529.90M307.70,529.90H313.30" fill="none" stroke="#5252ff" stroke-width="1.1"/>
<circle cx="307.90" cy="529.73" r="2.4" fill="#5050ff"/>
<circle cx="313.10" cy="530.07" r="2.4" fill="#5050ff"/>
<circle cx="310.80" cy="530.41" r="2.4" fill="#5050ff"/>
<circle cx="308.10" cy="529.90" r="2.4" fill="#5050ff"/>
<circle cx="312.90" cy="530.24" r="2.4" fill="#5050ff"/>
<circle cx="310.00" cy="530.07" r="2.4" fill="#5050ff"/>
<rect x="320.50" y="529.56" width="9.60" height="2.54" fill="#f7e0e2" stroke="#f24646" stroke-width="1.2"/>
<path d="M325.30,529.73V529.39M322.50,529.39H328.10" fill="none" stroke="#f24646" stroke-width="1.1"/>
<rect x="320.40" y="526.92" width="4.6" height="4.6" fill="#f03838"/>
<rect x="325.60" y="527.09" width="4.6" height="4.6" fill="#f03838"/>
<rect x="323.30" y="527.26" width="4.6" height="4.6" fill="#f03838"/>
<rect x="320.60" y="527.43" width="4.6" height="4.6" fill="#f03838"/>
<rect x="325.40" y="527.26" width="4.6" height="4.6" fill="#f03838"/>
<rect x="322.50" y="527.09" width="4.6" height="4.6" fill="#f03838"/>
<rect x="345.30" y="504.50" width="9.60" height="27.60" fill="#c3c5fc" stroke="#5252ff" stroke-width="1.2"/>
<path d="M350.10,505.18V503.82M347.30,503.82H352.90" fill="none" stroke="#5252ff" stroke-width="1.1"/>
<circle cx="347.50" cy="502.47" r="2.4" fill="#5050ff"/>
<circle cx="352.70" cy="503.31" r="2.4" fill="#5050ff"/>
<circle cx="350.40" cy="504.16" r="2.4" fill="#5050ff"/>
<circle cx="347.70" cy="505.01" r="2.4" fill="#5050ff"/>
<circle cx="352.50" cy="505.35" r="2.4" fill="#5050ff"/>
<circle cx="349.60" cy="503.65" r="2.4" fill="#5050ff"/>
<rect x="360.10" y="492.31" width="9.60" height="39.79" fill="#f7e0e2" stroke="#f24646" stroke-width="1.2"/>
<path d="M364.90,494.34V490.27M362.10,490.27H367.70" fill="none" stroke="#f24646" stroke-width="1.1"/>
<rect x="360.00" y="481.54" width="4.6" height="4.6" fill="#f03838"/>
<rect x="365.20" y="484.08" width="4.6" height="4.6" fill="#f03838"/>
<rect x="362.90" y="487.47" width="4.6" height="4.6" fill="#f03838"/>
<rect x="360.20" y="489.16" width="4.6" height="4.6" fill="#f03838"/>
<rect x="365.00" y="490.85" width="4.6" height="4.6" fill="#f03838"/>
<rect x="362.10" y="490.01" width="4.6" height="4.6" fill="#f03838"/>
<rect x="384.40" y="499.42" width="9.60" height="32.68" fill="#c3c5fc" stroke="#5252ff" stroke-width="1.2"/>
<path d="M389.20,501.11V497.73M386.40,497.73H392.00" fill="none" stroke="#5252ff" stroke-width="1.1"/>
<circle cx="386.60" cy="494.00" r="2.4" fill="#5050ff"/>
<circle cx="391.80" cy="496.54" r="2.4" fill="#5050ff"/>
<circle cx="389.50" cy="498.23" r="2.4" fill="#5050ff"/>
<circle cx="386.80" cy="499.93" r="2.4" fill="#5050ff"/>
<circle cx="391.60" cy="501.62" r="2.4" fill="#5050ff"/>
<circle cx="388.70" cy="499.08" r="2.4" fill="#5050ff"/>
<rect x="399.20" y="493.32" width="9.60" height="38.78" fill="#f7e0e2" stroke="#f24646" stroke-width="1.2"/>
<path d="M404.00,494.17V492.48M401.20,492.48H406.80" fill="none" stroke="#f24646" stroke-width="1.1"/>
<rect x="399.10" y="488.31" width="4.6" height="4.6" fill="#f03838"/>
<rect x="404.30" y="489.16" width="4.6" height="4.6" fill="#f03838"/>
<rect x="402.00" y="490.01" width="4.6" height="4.6" fill="#f03838"/>
<rect x="399.30" y="490.85" width="4.6" height="4.6" fill="#f03838"/>
<rect x="404.10" y="491.70" width="4.6" height="4.6" fill="#f03838"/>
<rect x="401.20" y="490.51" width="4.6" height="4.6" fill="#f03838"/>
<rect x="423.80" y="490.11" width="9.60" height="41.99" fill="#c3c5fc" stroke="#5252ff" stroke-width="1.2"/>
<path d="M428.60,493.83V486.38M425.80,486.38H431.40" fill="none" stroke="#5252ff" stroke-width="1.1"/>
<circle cx="426.00" cy="476.22" r="2.4" fill="#5050ff"/>
<circle cx="431.20" cy="479.61" r="2.4" fill="#5050ff"/>
<circle cx="428.90" cy="487.23" r="2.4" fill="#5050ff"/>
<circle cx="426.20" cy="489.77" r="2.4" fill="#5050ff"/>
<circle cx="431.00" cy="494.85" r="2.4" fill="#5050ff"/>
<circle cx="428.10" cy="491.46" r="2.4" fill="#5050ff"/>
<rect x="438.60" y="485.03" width="9.60" height="47.07" fill="#f7e0e2" stroke="#f24646" stroke-width="1.2"/>
<path d="M443.40,486.04V484.01M440.60,484.01H446.20" fill="none" stroke="#f24646" stroke-width="1.1"/>
<rect x="438.50" y="479.00" width="4.6" height="4.6" fill="#f03838"/>
<rect x="443.70" y="479.85" width="4.6" height="4.6" fill="#f03838"/>
<rect x="441.40" y="480.69" width="4.6" height="4.6" fill="#f03838"/>
<rect x="438.70" y="481.54" width="4.6" height="4.6" fill="#f03838"/>
<rect x="443.50" y="482.39" width="4.6" height="4.6" fill="#f03838"/>
<rect x="440.60" y="483.23" width="4.6" height="4.6" fill="#f03838"/>
<text x="0" y="0" transform="translate(261.00,483.00) rotate(-90) scale(1,1.0)" font-size="13.4" text-anchor="middle">TNF (pg/ml)</text>
<text x="0" y="0" transform="translate(308.10,548.90) scale(1.08,1)" font-size="11.111" text-anchor="end">B16-F10-OVA</text>
<text x="0" y="0" transform="translate(319.20,548.90) scale(1.08,1)" font-size="11.111" text-anchor="middle">-</text>
<text x="0" y="0" transform="translate(358.80,548.90) scale(1.08,1)" font-size="11.111" text-anchor="middle">+</text>
<text x="0" y="0" transform="translate(397.90,548.90) scale(1.08,1)" font-size="11.111" text-anchor="middle">+</text>
<text x="0" y="0" transform="translate(437.30,548.90) scale(1.08,1)" font-size="11.111" text-anchor="middle">+</text>
<text x="0" y="0" transform="translate(308.10,562.00) scale(1.08,1)" font-size="11.111" text-anchor="end">IL-1β</text>
<text x="0" y="0" transform="translate(319.20,562.00) scale(1.08,1)" font-size="11.111" text-anchor="middle">-</text>
<text x="0" y="0" transform="translate(358.80,562.00) scale(1.08,1)" font-size="11.111" text-anchor="middle">-</text>
<text x="0" y="0" transform="translate(397.90,562.00) scale(1.08,1)" font-size="11.111" text-anchor="middle">+</text>
<text x="0" y="0" transform="translate(437.30,562.00) scale(1.08,1)" font-size="11.111" text-anchor="middle">-</text>
<text x="0" y="0" transform="translate(308.10,574.80) scale(1.08,1)" font-size="11.111" text-anchor="end">IL-18</text>
<text x="0" y="0" transform="translate(319.20,574.80) scale(1.08,1)" font-size="11.111" text-anchor="middle">-</text>
<text x="0" y="0" transform="translate(358.80,574.80) scale(1.08,1)" font-size="11.111" text-anchor="middle">-</text>
<text x="0" y="0" transform="translate(397.90,574.80) scale(1.08,1)" font-size="11.111" text-anchor="middle">-</text>
<text x="0" y="0" transform="translate(437.30,574.80) scale(1.08,1)" font-size="11.111" text-anchor="middle">+</text>
<path d="M310.50,470.90V467.30H325.30V470.90" fill="none" stroke="#222" stroke-width="1.0"/>
<text x="317.90" y="465.80" font-size="11.024000000000001" text-anchor="middle">ns</text>
<path d="M350.10,470.90V467.30H364.90V470.90" fill="none" stroke="#222" stroke-width="1.0"/>
<text x="357.50" y="465.80" font-size="10.4" text-anchor="middle"><tspan font-style="italic">P</tspan>&lt;0.0001</text>
<path d="M389.20,470.90V467.30H404.00V470.90" fill="none" stroke="#222" stroke-width="1.0"/>
<text x="396.60" y="465.80" font-size="11.024000000000001" text-anchor="middle">ns</text>
<path d="M428.60,470.90V467.30H443.40V470.90" fill="none" stroke="#222" stroke-width="1.0"/>
<text x="436.00" y="465.80" font-size="11.024000000000001" text-anchor="middle">ns</text>
<path d="M310.50,457.40V453.80H428.60V457.40M350.10,453.80V457.40" fill="none" stroke="#222" stroke-width="1.0"/>
<text x="330.30" y="452.30" font-size="10.4" text-anchor="middle"><tspan font-style="italic">P</tspan>&lt;0.0001</text>
<text x="389.35" y="452.30" font-size="10.4" text-anchor="middle"><tspan font-style="italic">P</tspan>&lt;0.0001</text>
<path d="M325.30,444.10V440.50H443.40V444.10M364.90,440.50V444.10" fill="none" stroke="#222" stroke-width="1.0"/>
<text x="345.10" y="439.00" font-size="10.4" text-anchor="middle"><tspan font-style="italic">P</tspan>&lt;0.0001</text>
<text x="404.15" y="439.00" font-size="11.024000000000001" text-anchor="middle">ns</text>
<path d="M350.10,430.80V427.20H389.20V430.80" fill="none" stroke="#222" stroke-width="1.0"/>
<text x="369.65" y="425.70" font-size="11.024000000000001" text-anchor="middle">ns</text>
<path d="M364.90,419.10V415.50H404.00V419.10" fill="none" stroke="#222" stroke-width="1.0"/>
<text x="384.45" y="414.00" font-size="11.024000000000001" text-anchor="middle">ns</text>
<defs><clipPath id="hclip"><rect x="465.5" y="404" width="220" height="167"/></clipPath><clipPath id="cellclip"><circle cx="573" cy="672" r="204"/></clipPath></defs>
<g clip-path="url(#hclip)">
<path d="M458,502.5 C500,482 530,466 570,465.5 C605,466 650,484 690,499 L690,580 L458,580Z" fill="#e8e9ed"/>
<path d="M458,502.5 C500,482 530,466 570,465.5 C605,466 650,484 690,499" fill="none" stroke="#b8c6d9" stroke-width="5"/>
<path d="M458,502.5 C500,482 530,466 570,465.5 C605,466 650,484 690,499" transform="translate(0,-2.6)" fill="none" stroke="#8ea1bb" stroke-width="1"/>
<path d="M458,502.5 C500,482 530,466 570,465.5 C605,466 650,484 690,499" transform="translate(0,2.6)" fill="none" stroke="#a3b3c8" stroke-width="0.7"/>
<circle cx="578" cy="600" r="50" fill="none" stroke="#b9d2ae" stroke-width="4.6" stroke-dasharray="26,6"/>
<circle cx="578" cy="600" r="50" fill="none" stroke="#dfeddb" stroke-width="3" stroke-dasharray="26,6"/>
<circle cx="581" cy="571.5" r="11.5" fill="#7bc46d"/>
<circle cx="502.9" cy="529.9" r="29.3" fill="#f9e9ea" stroke="#fff6f6" stroke-width="4.4"/>
<circle cx="502.9" cy="529.9" r="31.05" fill="none" stroke="#e23c3c" stroke-width="0.85"/>
<circle cx="502.9" cy="529.9" r="29.30" fill="none" stroke="#e23c3c" stroke-width="0.85"/>
<circle cx="502.9" cy="529.9" r="27.55" fill="none" stroke="#e23c3c" stroke-width="0.85"/>
<circle cx="573.3" cy="508" r="28.8" fill="#f9e9ea" stroke="#fff6f6" stroke-width="4.4"/>
<circle cx="573.3" cy="508" r="30.55" fill="none" stroke="#e23c3c" stroke-width="0.85"/>
<circle cx="573.3" cy="508" r="28.80" fill="none" stroke="#e23c3c" stroke-width="0.85"/>
<circle cx="573.3" cy="508" r="27.05" fill="none" stroke="#e23c3c" stroke-width="0.85"/>
<circle cx="643.8" cy="533.6" r="29.3" fill="#f9e9ea" stroke="#fff6f6" stroke-width="4.4"/>
<circle cx="643.8" cy="533.6" r="31.05" fill="none" stroke="#e23c3c" stroke-width="0.85"/>
<circle cx="643.8" cy="533.6" r="29.30" fill="none" stroke="#e23c3c" stroke-width="0.85"/>
<circle cx="643.8" cy="533.6" r="27.55" fill="none" stroke="#e23c3c" stroke-width="0.85"/>
</g>
<path d="M473,437 Q475,430 483,431 Q490,427 496,432 Q505,434 505,443 Q509,451 502,456 Q496,462 489,460 Q482,464 476,460 Q469,457 471,450 Q467,443 473,437Z" fill="#f0a9b2"/>
<path d="M482,438 Q488,434 493,439 Q497,445 491,450 Q485,452 482,446Z" fill="#e3909c"/>
<ellipse cx="490.5" cy="449" rx="2.6" ry="1.8" fill="#dc8391"/>
<ellipse cx="469.5" cy="428.5" rx="1.4" ry="2.2" fill="#f0a9b2"/>
<ellipse cx="470.5" cy="441" rx="1.6" ry="1.9" fill="#f0a9b2"/>
<ellipse cx="502" cy="428.5" rx="3" ry="1.7" fill="#f0a9b2"/>
<ellipse cx="506" cy="456" rx="1.4" ry="2" fill="#f0a9b2"/>
<ellipse cx="492" cy="462.5" rx="2.4" ry="1.4" fill="#f0a9b2"/>
<ellipse cx="470" cy="456" rx="2" ry="1.5" fill="#f0a9b2"/>
<ellipse cx="498" cy="427" rx="1.2" ry="1.2" fill="#f0a9b2"/>
<ellipse cx="508" cy="445" rx="1.2" ry="1.6" fill="#f0a9b2"/>
<ellipse cx="466.5" cy="448" rx="1.1" ry="1.4" fill="#f0a9b2"/>
<circle cx="487.3" cy="423.5" r="3.9" fill="#cd2b2b" stroke="#ecd036" stroke-width="0.95"/>
<circle cx="480.8" cy="429.3" r="3.9" fill="#cd2b2b" stroke="#ecd036" stroke-width="0.95"/>
<circle cx="489.2" cy="432.2" r="3.9" fill="#cd2b2b" stroke="#ecd036" stroke-width="0.95"/>
<circle cx="503.7" cy="439.6" r="3.9" fill="#cd2b2b" stroke="#ecd036" stroke-width="0.95"/>
<circle cx="497.2" cy="445.2" r="3.9" fill="#cd2b2b" stroke="#ecd036" stroke-width="0.95"/>
<circle cx="505.3" cy="448.3" r="3.9" fill="#cd2b2b" stroke="#ecd036" stroke-width="0.95"/>
<circle cx="477.4" cy="450.8" r="3.9" fill="#cd2b2b" stroke="#ecd036" stroke-width="0.95"/>
<circle cx="484.2" cy="456.4" r="3.9" fill="#cd2b2b" stroke="#ecd036" stroke-width="0.95"/>
<circle cx="476.1" cy="460.1" r="3.9" fill="#cd2b2b" stroke="#ecd036" stroke-width="0.95"/>
<circle cx="534.2" cy="424.1" r="4.5" fill="#e4f1df" stroke="#5dbd52" stroke-width="2.0" stroke-dasharray="1.1,0.5"/>
<circle cx="520.8" cy="432.2" r="4.5" fill="#e4f1df" stroke="#5dbd52" stroke-width="2.0" stroke-dasharray="1.1,0.5"/>
<circle cx="535.9" cy="437.8" r="4.5" fill="#e4f1df" stroke="#5dbd52" stroke-width="2.0" stroke-dasharray="1.1,0.5"/>
<circle cx="521.2" cy="447.7" r="4.5" fill="#e4f1df" stroke="#5dbd52" stroke-width="2.0" stroke-dasharray="1.1,0.5"/>
<text x="466.80" y="420.60" font-size="13" font-weight="bold">h</text>
<text x="553.40" y="418.60" font-size="13.6" text-anchor="middle">FITC-dextran</text>
<text x="505.00" y="469.50" font-size="13.6" text-anchor="middle">p15E</text>
<text x="582.00" y="444.30" font-size="13.6" text-anchor="middle">mouse</text>
<text x="581.80" y="461.60" font-size="13.6" text-anchor="middle">anti-p15E</text>
<text x="639.50" y="420.40" font-size="13" text-anchor="middle">APC anti-</text>
<text x="644.00" y="436.30" font-size="13" text-anchor="middle">mouse IgG</text>
<text x="499.00" y="568.20" font-size="13.6" text-anchor="middle">lysosome</text>
<circle cx="483.7" cy="526.5" r="3.9" fill="#cd2b2b" stroke="#ecd036" stroke-width="0.95"/>
<circle cx="491.5" cy="530.7" r="3.9" fill="#cd2b2b" stroke="#ecd036" stroke-width="0.95"/>
<circle cx="484.5" cy="534.7" r="3.9" fill="#cd2b2b" stroke="#ecd036" stroke-width="0.95"/>
<circle cx="501.2" cy="523.7" r="4.5" fill="#e4f1df" stroke="#5dbd52" stroke-width="2.0" stroke-dasharray="1.1,0.5"/>
<circle cx="514" cy="515.4" r="4.5" fill="#e4f1df" stroke="#5dbd52" stroke-width="2.0" stroke-dasharray="1.1,0.5"/>
<circle cx="516" cy="529.5" r="4.5" fill="#e4f1df" stroke="#5dbd52" stroke-width="2.0" stroke-dasharray="1.1,0.5"/>
<circle cx="503.8" cy="536" r="4.5" fill="#e4f1df" stroke="#5dbd52" stroke-width="2.0" stroke-dasharray="1.1,0.5"/>
<circle cx="585.7" cy="492.7" r="4.5" fill="#e4f1df" stroke="#5dbd52" stroke-width="2.0" stroke-dasharray="1.1,0.5"/>
<circle cx="572" cy="501" r="4.5" fill="#e4f1df" stroke="#5dbd52" stroke-width="2.0" stroke-dasharray="1.1,0.5"/>
<circle cx="587.4" cy="507.1" r="4.5" fill="#e4f1df" stroke="#5dbd52" stroke-width="2.0" stroke-dasharray="1.1,0.5"/>
<circle cx="574.6" cy="512.9" r="4.5" fill="#e4f1df" stroke="#5dbd52" stroke-width="2.0" stroke-dasharray="1.1,0.5"/>
<circle cx="582.2" cy="527.7" r="4.2" fill="#cd2b2b" stroke="#ecd036" stroke-width="0.95"/>
<path transform="translate(569.4,483) rotate(0)" d="M-2.3,-1.6 L2.4,-1.4 L0,2.4Z" fill="#d42a2a" stroke="#e8c22a" stroke-width="0.5"/>
<path transform="translate(572.9,491) rotate(120)" d="M-2.3,-1.6 L2.4,-1.4 L0,2.4Z" fill="#d42a2a" stroke="#e8c22a" stroke-width="0.5"/>
<path transform="translate(555,497) rotate(60)" d="M-2.3,-1.6 L2.4,-1.4 L0,2.4Z" fill="#d42a2a" stroke="#e8c22a" stroke-width="0.5"/>
<path transform="translate(557,510) rotate(200)" d="M-2.3,-1.6 L2.4,-1.4 L0,2.4Z" fill="#d42a2a" stroke="#e8c22a" stroke-width="0.5"/>
<path transform="translate(566.8,528.6) rotate(30)" d="M-2.3,-1.6 L2.4,-1.4 L0,2.4Z" fill="#d42a2a" stroke="#e8c22a" stroke-width="0.5"/>
<path transform="translate(563,521) rotate(300)" d="M-2.3,-1.6 L2.4,-1.4 L0,2.4Z" fill="#d42a2a" stroke="#e8c22a" stroke-width="0.5"/>
<path transform="translate(573,520) rotate(90)" d="M-2.3,-1.6 L2.4,-1.4 L0,2.4Z" fill="#d42a2a" stroke="#e8c22a" stroke-width="0.5"/>
<path transform="translate(579,483) rotate(210)" d="M-2.3,-1.6 L2.4,-1.4 L0,2.4Z" fill="#d42a2a" stroke="#e8c22a" stroke-width="0.5"/>
<circle cx="658.7" cy="519.9" r="4.5" fill="#e4f1df" stroke="#5dbd52" stroke-width="2.0" stroke-dasharray="1.1,0.5"/>
<circle cx="647.3" cy="532.1" r="4.5" fill="#e4f1df" stroke="#5dbd52" stroke-width="2.0" stroke-dasharray="1.1,0.5"/>
<circle cx="661" cy="534.8" r="4.5" fill="#e4f1df" stroke="#5dbd52" stroke-width="2.0" stroke-dasharray="1.1,0.5"/>
<circle cx="654.7" cy="547.9" r="4.5" fill="#e4f1df" stroke="#5dbd52" stroke-width="2.0" stroke-dasharray="1.1,0.5"/>
<circle cx="626.3" cy="526" r="6.3" fill="#dfe8f5" stroke="#6f9fd6" stroke-width="1" stroke-dasharray="1,0.7"/>
<circle cx="626.3" cy="526" r="3.9" fill="#cd2b2b" stroke="#ecd036" stroke-width="0.95"/>
<path transform="translate(642,508.5) rotate(0)" d="M-2.3,-1.6 L2.4,-1.4 L0,2.4Z" fill="#d42a2a" stroke="#e8c22a" stroke-width="0.5"/>
<path transform="translate(646,515.5) rotate(100)" d="M-2.3,-1.6 L2.4,-1.4 L0,2.4Z" fill="#d42a2a" stroke="#e8c22a" stroke-width="0.5"/>
<path transform="translate(634.2,512) rotate(200)" d="M-2.3,-1.6 L2.4,-1.4 L0,2.4Z" fill="#d42a2a" stroke="#e8c22a" stroke-width="0.5"/>
<path transform="translate(638.6,521.6) rotate(50)" d="M-2.3,-1.6 L2.4,-1.4 L0,2.4Z" fill="#d42a2a" stroke="#e8c22a" stroke-width="0.5"/>
<path transform="translate(623.7,537) rotate(300)" d="M-2.3,-1.6 L2.4,-1.4 L0,2.4Z" fill="#d42a2a" stroke="#e8c22a" stroke-width="0.5"/>
<path transform="translate(633.7,538.8) rotate(10)" d="M-2.3,-1.6 L2.4,-1.4 L0,2.4Z" fill="#d42a2a" stroke="#e8c22a" stroke-width="0.5"/>
<path transform="translate(627.7,550.5) rotate(150)" d="M-2.3,-1.6 L2.4,-1.4 L0,2.4Z" fill="#d42a2a" stroke="#e8c22a" stroke-width="0.5"/>
<path transform="translate(641.2,554) rotate(250)" d="M-2.3,-1.6 L2.4,-1.4 L0,2.4Z" fill="#d42a2a" stroke="#e8c22a" stroke-width="0.5"/>
<path d="M483.7,467.3 Q482,485 487.6,498" fill="none" stroke="#222" stroke-width="0.8"/>
<path transform="translate(488,501) rotate(72)" d="M0,0 L-4.2,-2 L-4.2,2Z" fill="#222"/>
<path d="M531,456 Q528,482 515,497" fill="none" stroke="#222" stroke-width="0.8"/>
<path transform="translate(513.4,499.5) rotate(128)" d="M0,0 L-4.2,-2 L-4.2,2Z" fill="#222"/>
<path d="M533.6,519 L539,516" fill="none" stroke="#222" stroke-width="0.8"/>
<path transform="translate(542.3,514.6) rotate(-25)" d="M0,0 L-4.2,-2 L-4.2,2Z" fill="#222"/>
<path d="M605.3,518.1 L609,519.8" fill="none" stroke="#222" stroke-width="0.8"/>
<path transform="translate(612.3,521.3) rotate(25)" d="M0,0 L-4.2,-2 L-4.2,2Z" fill="#222"/>
<path d="M615.8,460.3 Q613,500 620.5,519" fill="none" stroke="#222" stroke-width="0.8"/>
<path transform="translate(621.9,521.6) rotate(72)" d="M0,0 L-4.2,-2 L-4.2,2Z" fill="#222"/>
<path d="M658.7,504.1 Q661,487 648.5,483" fill="none" stroke="#222" stroke-width="0.8"/>
<path transform="translate(645.6,482.2) rotate(195)" d="M0,0 L-4.2,-2 L-4.2,2Z" fill="#222"/>
<path d="M630.7,445.9 Q623,446 620.8,451" fill="none" stroke="#222" stroke-width="0.8"/>
<path transform="translate(620.2,453.3) rotate(110)" d="M0,0 L-4.2,-2 L-4.2,2Z" fill="#222"/>
<g transform="translate(617.6,458.5) rotate(25)" stroke="#5f92d2" stroke-width="1.7" fill="none" stroke-linecap="round"><path d="M0,4.5 V0.5 L-3.2,-3.5 M0,0.5 L3.2,-3.5"/></g>
<g transform="translate(635,445.4) rotate(65)" stroke="#5f92d2" stroke-width="1.7" fill="none" stroke-linecap="round"><path d="M0,4.5 V0.5 L-3.2,-3.5 M0,0.5 L3.2,-3.5"/></g>
<g transform="translate(657.5,455.5) rotate(20)" fill="#6a3789"><rect x="-8" y="-13" width="7.2" height="25" rx="1.5"/><rect x="0.6" y="-10" width="7.2" height="10" rx="1.5"/><rect x="0.6" y="1" width="7.2" height="10.5" rx="1.5"/></g>
<line x1="652.60" y1="465.50" x2="639.50" y2="485.20" stroke="#6a3789" stroke-width="1.6"/>
<circle cx="661.9" cy="447.2" r="3.8" fill="#cc2a2a" stroke="#e9c62c" stroke-width="1.1"/>
<text x="6.60" y="601.80" font-size="13.5" font-weight="bold">i</text>
<path d="M72.30,610.90V712.90H225.60" fill="none" stroke="#202020" stroke-width="1.3"/>
<line x1="69.30" y1="712.90" x2="72.30" y2="712.90" stroke="#202020" stroke-width="1.2"/>
<text x="66.70" y="716.87" font-size="13" text-anchor="end">0</text>
<line x1="69.30" y1="687.55" x2="72.30" y2="687.55" stroke="#202020" stroke-width="1.2"/>
<text x="67.00" y="687.85" font-size="8.5" text-anchor="end">5</text>
<text x="60.87" y="691.84" font-size="13" text-anchor="end">2×10</text>
<line x1="69.30" y1="662.20" x2="72.30" y2="662.20" stroke="#202020" stroke-width="1.2"/>
<text x="67.00" y="662.50" font-size="8.5" text-anchor="end">5</text>
<text x="60.87" y="666.49" font-size="13" text-anchor="end">4×10</text>
<line x1="69.30" y1="636.85" x2="72.30" y2="636.85" stroke="#202020" stroke-width="1.2"/>
<text x="67.00" y="637.15" font-size="8.5" text-anchor="end">5</text>
<text x="60.87" y="641.14" font-size="13" text-anchor="end">6×10</text>
<line x1="69.30" y1="611.50" x2="72.30" y2="611.50" stroke="#202020" stroke-width="1.2"/>
<text x="67.00" y="611.80" font-size="8.5" text-anchor="end">5</text>
<text x="60.87" y="615.79" font-size="13" text-anchor="end">8×10</text>
<line x1="89.30" y1="712.90" x2="89.30" y2="715.90" stroke="#202020" stroke-width="1.1"/>
<line x1="129.30" y1="712.90" x2="129.30" y2="715.90" stroke="#202020" stroke-width="1.1"/>
<line x1="168.70" y1="712.90" x2="168.70" y2="715.90" stroke="#202020" stroke-width="1.1"/>
<line x1="208.10" y1="712.90" x2="208.10" y2="715.90" stroke="#202020" stroke-width="1.1"/>
<rect x="77.00" y="673.61" width="9.60" height="39.29" fill="#c3c5fc" stroke="#5252ff" stroke-width="1.2"/>
<path d="M81.80,676.14V671.07M79.00,671.07H84.60" fill="none" stroke="#5252ff" stroke-width="1.1"/>
<circle cx="81.80" cy="668.28" r="2.4" fill="#5050ff"/>
<circle cx="79.20" cy="673.99" r="2.4" fill="#5050ff"/>
<circle cx="84.40" cy="674.62" r="2.4" fill="#5050ff"/>
<rect x="92.00" y="667.27" width="9.60" height="45.63" fill="#f7e0e2" stroke="#f24646" stroke-width="1.2"/>
<path d="M96.80,669.80V664.74M94.00,664.74H99.60" fill="none" stroke="#f24646" stroke-width="1.1"/>
<rect x="94.50" y="672.58" width="4.6" height="4.6" fill="#f03838"/>
<rect x="91.90" y="665.60" width="4.6" height="4.6" fill="#f03838"/>
<rect x="97.10" y="666.24" width="4.6" height="4.6" fill="#f03838"/>
<rect x="117.00" y="669.04" width="9.60" height="43.86" fill="#c3c5fc" stroke="#5252ff" stroke-width="1.2"/>
<path d="M121.80,672.21V665.88M119.00,665.88H124.60" fill="none" stroke="#5252ff" stroke-width="1.1"/>
<circle cx="121.80" cy="662.58" r="2.4" fill="#5050ff"/>
<circle cx="119.20" cy="669.80" r="2.4" fill="#5050ff"/>
<circle cx="124.40" cy="669.55" r="2.4" fill="#5050ff"/>
<rect x="132.00" y="653.33" width="9.60" height="59.57" fill="#f7e0e2" stroke="#f24646" stroke-width="1.2"/>
<path d="M136.80,655.23V651.43M134.00,651.43H139.60" fill="none" stroke="#f24646" stroke-width="1.1"/>
<rect x="134.50" y="647.23" width="4.6" height="4.6" fill="#f03838"/>
<rect x="131.90" y="650.52" width="4.6" height="4.6" fill="#f03838"/>
<rect x="137.10" y="650.90" width="4.6" height="4.6" fill="#f03838"/>
<rect x="156.40" y="667.78" width="9.60" height="45.12" fill="#c3c5fc" stroke="#5252ff" stroke-width="1.2"/>
<path d="M161.20,670.95V664.61M158.40,664.61H164.00" fill="none" stroke="#5252ff" stroke-width="1.1"/>
<circle cx="161.20" cy="662.58" r="2.4" fill="#5050ff"/>
<circle cx="158.60" cy="668.54" r="2.4" fill="#5050ff"/>
<circle cx="163.80" cy="668.54" r="2.4" fill="#5050ff"/>
<rect x="171.40" y="652.06" width="9.60" height="60.84" fill="#f7e0e2" stroke="#f24646" stroke-width="1.2"/>
<path d="M176.20,659.66V644.46M173.40,644.46H179.00" fill="none" stroke="#f24646" stroke-width="1.1"/>
<rect x="173.90" y="641.27" width="4.6" height="4.6" fill="#f03838"/>
<rect x="173.90" y="646.08" width="4.6" height="4.6" fill="#f03838"/>
<rect x="173.90" y="659.27" width="4.6" height="4.6" fill="#f03838"/>
<rect x="195.80" y="659.66" width="9.60" height="53.24" fill="#c3c5fc" stroke="#5252ff" stroke-width="1.2"/>
<path d="M200.60,663.47V655.86M197.80,655.86H203.40" fill="none" stroke="#5252ff" stroke-width="1.1"/>
<circle cx="200.60" cy="653.20" r="2.4" fill="#5050ff"/>
<circle cx="198.00" cy="660.30" r="2.4" fill="#5050ff"/>
<circle cx="203.20" cy="660.30" r="2.4" fill="#5050ff"/>
<rect x="210.80" y="632.16" width="9.60" height="80.74" fill="#f7e0e2" stroke="#f24646" stroke-width="1.2"/>
<path d="M215.60,639.77V624.56M212.80,624.56H218.40" fill="none" stroke="#f24646" stroke-width="1.1"/>
<rect x="213.30" y="621.49" width="4.6" height="4.6" fill="#f03838"/>
<rect x="213.30" y="625.30" width="4.6" height="4.6" fill="#f03838"/>
<rect x="213.30" y="643.93" width="4.6" height="4.6" fill="#f03838"/>
<path d="M81.80,663.00V659.40H97.50V663.00" fill="none" stroke="#222" stroke-width="1.0"/>
<text x="89.65" y="657.90" font-size="11.024000000000001" text-anchor="middle">ns</text>
<path d="M121.60,645.50V641.90H136.50V645.50" fill="none" stroke="#222" stroke-width="1.0"/>
<text x="129.05" y="640.40" font-size="10.4" text-anchor="middle"><tspan font-style="italic">P</tspan>=0.0414</text>
<path d="M161.50,630.90V627.30H175.70V630.90" fill="none" stroke="#222" stroke-width="1.0"/>
<text x="168.60" y="625.80" font-size="10.4" text-anchor="middle"><tspan font-style="italic">P</tspan>=0.0487</text>
<path d="M199.30,616.00V612.40H214.70V616.00" fill="none" stroke="#222" stroke-width="1.0"/>
<text x="207.00" y="610.90" font-size="10.4" text-anchor="middle"><tspan font-style="italic">P</tspan>=0.0007</text>
<text x="89.30" y="730.60" font-size="13.5" text-anchor="middle">0</text>
<text x="129.30" y="730.60" font-size="13.5" text-anchor="middle">12</text>
<text x="168.70" y="730.60" font-size="13.5" text-anchor="middle">24</text>
<text x="208.10" y="730.60" font-size="13.5" text-anchor="middle">48</text>
<text x="153.30" y="750.60" font-size="13.4" text-anchor="middle">treatment time (h)</text>
<text x="0" y="0" transform="translate(12.00,663.20) rotate(-90) scale(1,1.0)" font-size="13.6" text-anchor="middle">p15E fluorescence</text>
<text x="0" y="0" transform="translate(27.30,662.00) rotate(-90) scale(1,1.0)" font-size="13.5" text-anchor="middle">intensity (MFI)</text>
<text x="239.90" y="602.50" font-size="12" font-weight="bold">j</text>
<path d="M319.5,611.3V713.9H421.9" fill="none" stroke="#202020" stroke-width="1.3"/>
<line x1="316.00" y1="713.90" x2="319.00" y2="713.90" stroke="#202020" stroke-width="1.0"/>
<text x="313.80" y="718.55" font-size="13" text-anchor="end">0</text>
<line x1="316.00" y1="693.48" x2="319.00" y2="693.48" stroke="#202020" stroke-width="1.0"/>
<text x="314.30" y="693.78" font-size="8.5" text-anchor="end">5</text>
<text x="306.47" y="697.77" font-size="13" text-anchor="end">2×10</text>
<line x1="316.00" y1="673.06" x2="319.00" y2="673.06" stroke="#202020" stroke-width="1.0"/>
<text x="314.30" y="673.36" font-size="8.5" text-anchor="end">5</text>
<text x="306.47" y="677.35" font-size="13" text-anchor="end">4×10</text>
<line x1="316.00" y1="652.64" x2="319.00" y2="652.64" stroke="#202020" stroke-width="1.0"/>
<text x="314.30" y="652.94" font-size="8.5" text-anchor="end">5</text>
<text x="306.47" y="656.93" font-size="13" text-anchor="end">6×10</text>
<line x1="316.00" y1="632.22" x2="319.00" y2="632.22" stroke="#202020" stroke-width="1.0"/>
<text x="314.30" y="632.52" font-size="8.5" text-anchor="end">5</text>
<text x="306.47" y="636.51" font-size="13" text-anchor="end">8×10</text>
<line x1="316.00" y1="611.80" x2="319.00" y2="611.80" stroke="#202020" stroke-width="1.0"/>
<text x="314.30" y="612.10" font-size="8.5" text-anchor="end">6</text>
<text x="306.47" y="616.09" font-size="13" text-anchor="end">1×10</text>
<line x1="343.00" y1="713.90" x2="343.00" y2="717.40" stroke="#202020" stroke-width="1.0"/>
<line x1="397.30" y1="713.90" x2="397.30" y2="717.40" stroke="#202020" stroke-width="1.0"/>
<circle cx="328.8" cy="713.6" r="2.4" fill="#5050ff"/>
<circle cx="333.4" cy="713.6" r="2.4" fill="#5050ff"/>
<circle cx="338" cy="713.6" r="2.4" fill="#5050ff"/>
<rect x="346.8" y="711.4" width="13.4" height="4.6" fill="#f03838"/>
<rect x="381.2" y="629.4" width="13.2" height="84.5" fill="#c3c5fc" stroke="#5252ff" stroke-width="1.2"/>
<rect x="401.3" y="630" width="13.2" height="83.9" fill="#f7e0e2" stroke="#f24646" stroke-width="1.2"/>
<path d="M387.8,633V625.9M385.3,625.9H390.3" fill="none" stroke="#5252ff" stroke-width="1.1"/>
<path d="M407.9,633V626.5M405.4,626.5H410.4" fill="none" stroke="#f24646" stroke-width="1.1"/>
<circle cx="383.5" cy="624.8" r="2.4" fill="#5050ff"/>
<circle cx="392" cy="627.5" r="2.4" fill="#5050ff"/>
<circle cx="388" cy="632.5" r="2.4" fill="#5050ff"/>
<rect x="405.7" y="622.2" width="4.6" height="4.6" fill="#f03838"/>
<rect x="410.2" y="626.7" width="4.6" height="4.6" fill="#f03838"/>
<rect x="401.2" y="629.7" width="4.6" height="4.6" fill="#f03838"/>
<path d="M332.50,618.60V615.00H407.90V618.60M387.70,615.00V618.60" fill="none" stroke="#222" stroke-width="1.0"/>
<text x="360.00" y="612.80" font-size="10.4" text-anchor="middle"><tspan font-style="italic">P</tspan>&lt;0.0001</text>
<text x="397.50" y="612.50" font-size="11.024000000000001" text-anchor="middle">ns</text>
<path d="M332.50,605.00V601.40H407.90V605.00M353.50,601.40V605.00" fill="none" stroke="#222" stroke-width="1.0"/>
<text x="342.80" y="599.60" font-size="11.024000000000001" text-anchor="middle">ns</text>
<text x="381.50" y="599.60" font-size="10.4" text-anchor="middle"><tspan font-style="italic">P</tspan>&lt;0.0001</text>
<text x="343.00" y="731.00" font-size="13.5" text-anchor="middle">0</text>
<text x="397.30" y="731.00" font-size="13.5" text-anchor="middle">48</text>
<text x="377.20" y="751.00" font-size="13.4" text-anchor="middle">treatment time (h)</text>
<text x="0" y="0" transform="translate(249.00,663.40) rotate(-90) scale(1,1.0)" font-size="13.6" text-anchor="middle">FITC-dextran</text>
<text x="0" y="0" transform="translate(266.00,666.00) rotate(-90) scale(1,1.0)" font-size="13.2" text-anchor="middle">fluorescence intensity (MFI)</text>
<text x="431.60" y="601.10" font-size="12" font-weight="bold">k</text>
<text x="562.60" y="589.30" font-size="13.7" text-anchor="middle"><tspan font-style="italic">Tmem175<tspan font-size="8" dy="-5">-/-</tspan></tspan><tspan dy="5"> vs WT</tspan></text>
<rect x="442.70" y="590.90" width="234.58" height="15.90" fill="#e06272"/>
<text x="448.10" y="602.20" font-size="11.6" fill="#383838">positive regulation of B cell activation</text>
<rect x="442.70" y="607.87" width="217.59" height="15.90" fill="#e06272"/>
<text x="448.10" y="619.17" font-size="11.6" fill="#383838">complement activation, classical pathway</text>
<rect x="442.70" y="624.84" width="172.78" height="15.90" fill="#e06272"/>
<text x="448.10" y="636.14" font-size="11.6" fill="#383838">immunoglobulin production</text>
<rect x="442.70" y="641.81" width="129.52" height="15.90" fill="#e06272"/>
<text x="448.10" y="653.11" font-size="11.6" fill="#383838">innate immune response</text>
<rect x="442.70" y="658.78" width="110.98" height="15.90" fill="#e06272"/>
<text x="448.10" y="670.08" font-size="11.6" fill="#383838">immune response</text>
<rect x="442.70" y="675.75" width="15.19" height="15.90" fill="#e06272"/>
<text x="448.10" y="687.05" font-size="11.6" fill="#383838">lipid metabolic process</text>
<rect x="442.70" y="692.72" width="14.94" height="15.90" fill="#e06272"/>
<text x="448.10" y="704.02" font-size="11.6" fill="#383838">bone resorption</text>
<rect x="442.70" y="709.69" width="10.30" height="15.90" fill="#e06272"/>
<text x="448.10" y="720.99" font-size="11.6" fill="#383838">immune system process</text>
<rect x="442.70" y="726.66" width="9.01" height="15.90" fill="#e06272"/>
<text x="448.10" y="737.96" font-size="11.6" fill="#383838">adherens junction maintenance</text>
<rect x="442.70" y="743.63" width="8.50" height="15.90" fill="#e06272"/>
<text x="448.10" y="754.93" font-size="11.6" fill="#383838">adaptive immune response</text>
<rect x="442.70" y="760.60" width="8.50" height="15.90" fill="#e06272"/>
<text x="448.10" y="771.90" font-size="11.6" fill="#383838">inflammatory response</text>
<line x1="442.70" y1="589.90" x2="442.70" y2="778.60" stroke="#333" stroke-width="1.0"/>
<line x1="442.70" y1="778.60" x2="677.40" y2="778.60" stroke="#333" stroke-width="1.0"/>
<line x1="442.70" y1="778.60" x2="442.70" y2="781.10" stroke="#333" stroke-width="0.8"/>
<text x="442.70" y="791.40" font-size="8.8" text-anchor="middle" fill="#333">0</text>
<line x1="468.45" y1="778.60" x2="468.45" y2="781.10" stroke="#333" stroke-width="0.8"/>
<text x="468.45" y="791.40" font-size="8.8" text-anchor="middle" fill="#333">10</text>
<line x1="494.20" y1="778.60" x2="494.20" y2="781.10" stroke="#333" stroke-width="0.8"/>
<text x="494.20" y="791.40" font-size="8.8" text-anchor="middle" fill="#333">20</text>
<line x1="519.95" y1="778.60" x2="519.95" y2="781.10" stroke="#333" stroke-width="0.8"/>
<text x="519.95" y="791.40" font-size="8.8" text-anchor="middle" fill="#333">30</text>
<line x1="545.70" y1="778.60" x2="545.70" y2="781.10" stroke="#333" stroke-width="0.8"/>
<text x="545.70" y="791.40" font-size="8.8" text-anchor="middle" fill="#333">40</text>
<line x1="571.45" y1="778.60" x2="571.45" y2="781.10" stroke="#333" stroke-width="0.8"/>
<text x="571.45" y="791.40" font-size="8.8" text-anchor="middle" fill="#333">50</text>
<line x1="597.20" y1="778.60" x2="597.20" y2="781.10" stroke="#333" stroke-width="0.8"/>
<text x="597.20" y="791.40" font-size="8.8" text-anchor="middle" fill="#333">60</text>
<line x1="622.95" y1="778.60" x2="622.95" y2="781.10" stroke="#333" stroke-width="0.8"/>
<text x="622.95" y="791.40" font-size="8.8" text-anchor="middle" fill="#333">70</text>
<line x1="648.70" y1="778.60" x2="648.70" y2="781.10" stroke="#333" stroke-width="0.8"/>
<text x="648.70" y="791.40" font-size="8.8" text-anchor="middle" fill="#333">80</text>
<line x1="674.45" y1="778.60" x2="674.45" y2="781.10" stroke="#333" stroke-width="0.8"/>
<text x="674.45" y="791.40" font-size="8.8" text-anchor="middle" fill="#333">90</text>
<text x="559.05" y="799.30" font-size="7.8" text-anchor="middle" fill="#333">-log10(p.value)</text>
<text x="0" y="0" transform="translate(440.00,694.80) rotate(-90) scale(1,1.0)" font-size="13.6" text-anchor="middle">upregulated GO terms</text>
<rect x="601.5" y="648.50" width="19.5" height="16.5" fill="#e06272" stroke="#555" stroke-width="1"/>
<text x="626.50" y="660.80" font-size="13" fill="#333">P&lt;0.001</text>
<rect x="601.5" y="669.00" width="19.5" height="16.5" fill="#e59aa6" stroke="#555" stroke-width="1"/>
<text x="626.50" y="681.30" font-size="13" fill="#333">P&lt;0.01</text>
<rect x="601.5" y="689.50" width="19.5" height="16.5" fill="#e9c4d1" stroke="#555" stroke-width="1"/>
<text x="626.50" y="701.80" font-size="13" fill="#333">P&lt;0.05</text>
<rect x="601.5" y="710.00" width="19.5" height="16.5" fill="#b8c8d8" stroke="#555" stroke-width="1"/>
<text x="626.50" y="722.30" font-size="13" fill="#333">P&gt;0.05</text>
<text x="431.50" y="846.00" font-size="12" font-weight="bold">l</text>
<text x="562.60" y="813.30" font-size="13.8" text-anchor="middle"><tspan font-style="italic">Tmem175<tspan font-size="8" dy="-5">-/-</tspan></tspan><tspan dy="5"> B16-F10-OVA</tspan></text>
<text x="563.50" y="824.80" font-size="13.8" text-anchor="middle">vs</text>
<text x="562.50" y="837.50" font-size="13.8" text-anchor="middle">WT B16-F10-OVA</text>
<rect x="442.70" y="838.00" width="234.60" height="15.80" fill="#e06272"/>
<text x="448.10" y="849.20" font-size="11.6" fill="#383838">positive regulation of B cell activation</text>
<rect x="442.70" y="855.00" width="223.33" height="15.80" fill="#e06272"/>
<text x="448.10" y="866.20" font-size="11.6" fill="#383838">complement activation, classical pathway</text>
<rect x="442.70" y="872.00" width="175.72" height="15.80" fill="#e06272"/>
<text x="448.10" y="883.20" font-size="11.6" fill="#383838">immunoglobulin production</text>
<rect x="442.70" y="889.00" width="162.61" height="15.80" fill="#e06272"/>
<text x="448.10" y="900.20" font-size="11.6" fill="#383838">defense response to bacterium</text>
<rect x="442.70" y="906.00" width="160.77" height="15.80" fill="#e06272"/>
<text x="448.10" y="917.20" font-size="11.6" fill="#383838">innate immune response</text>
<rect x="442.70" y="923.00" width="41.17" height="15.80" fill="#e06272"/>
<text x="448.10" y="934.20" font-size="11.6" fill="#383838">cell cycle</text>
<rect x="442.70" y="940.00" width="40.02" height="15.80" fill="#e06272"/>
<text x="448.10" y="951.20" font-size="11.6" fill="#383838">cell division</text>
<rect x="442.70" y="957.00" width="23.92" height="15.80" fill="#e06272"/>
<text x="448.10" y="968.20" font-size="11.6" fill="#383838">mitotic cytokinesis</text>
<rect x="442.70" y="974.00" width="23.23" height="15.80" fill="#e06272"/>
<text x="448.10" y="985.20" font-size="11.6" fill="#383838">chromosome segregation</text>
<rect x="442.70" y="991.00" width="20.93" height="15.80" fill="#e06272"/>
<text x="448.10" y="1002.20" font-size="11.6" fill="#383838">immune system process</text>
<rect x="442.70" y="1008.00" width="10.81" height="15.80" fill="#e06272"/>
<text x="448.10" y="1019.20" font-size="11.6" fill="#383838">inflammatory response</text>
<line x1="442.70" y1="837.00" x2="442.70" y2="1025.00" stroke="#333" stroke-width="1.0"/>
<line x1="442.70" y1="1025.00" x2="677.40" y2="1025.00" stroke="#333" stroke-width="1.0"/>
<line x1="442.70" y1="1025.00" x2="442.70" y2="1027.50" stroke="#333" stroke-width="0.8"/>
<text x="442.70" y="1038.60" font-size="8.8" text-anchor="middle" fill="#333">0</text>
<line x1="465.70" y1="1025.00" x2="465.70" y2="1027.50" stroke="#333" stroke-width="0.8"/>
<text x="465.70" y="1038.60" font-size="8.8" text-anchor="middle" fill="#333">10</text>
<line x1="488.70" y1="1025.00" x2="488.70" y2="1027.50" stroke="#333" stroke-width="0.8"/>
<text x="488.70" y="1038.60" font-size="8.8" text-anchor="middle" fill="#333">20</text>
<line x1="511.70" y1="1025.00" x2="511.70" y2="1027.50" stroke="#333" stroke-width="0.8"/>
<text x="511.70" y="1038.60" font-size="8.8" text-anchor="middle" fill="#333">30</text>
<line x1="534.70" y1="1025.00" x2="534.70" y2="1027.50" stroke="#333" stroke-width="0.8"/>
<text x="534.70" y="1038.60" font-size="8.8" text-anchor="middle" fill="#333">40</text>
<line x1="557.70" y1="1025.00" x2="557.70" y2="1027.50" stroke="#333" stroke-width="0.8"/>
<text x="557.70" y="1038.60" font-size="8.8" text-anchor="middle" fill="#333">50</text>
<line x1="580.70" y1="1025.00" x2="580.70" y2="1027.50" stroke="#333" stroke-width="0.8"/>
<text x="580.70" y="1038.60" font-size="8.8" text-anchor="middle" fill="#333">60</text>
<line x1="603.70" y1="1025.00" x2="603.70" y2="1027.50" stroke="#333" stroke-width="0.8"/>
<text x="603.70" y="1038.60" font-size="8.8" text-anchor="middle" fill="#333">70</text>
<line x1="626.70" y1="1025.00" x2="626.70" y2="1027.50" stroke="#333" stroke-width="0.8"/>
<text x="626.70" y="1038.60" font-size="8.8" text-anchor="middle" fill="#333">80</text>
<line x1="649.70" y1="1025.00" x2="649.70" y2="1027.50" stroke="#333" stroke-width="0.8"/>
<text x="649.70" y="1038.60" font-size="8.8" text-anchor="middle" fill="#333">90</text>
<line x1="672.70" y1="1025.00" x2="672.70" y2="1027.50" stroke="#333" stroke-width="0.8"/>
<text x="672.70" y="1038.60" font-size="8.8" text-anchor="middle" fill="#333">100</text>
<text x="559.05" y="1047.00" font-size="7.8" text-anchor="middle" fill="#333">-log10(p.value)</text>
<text x="0" y="0" transform="translate(440.00,942.00) rotate(-90) scale(1,1.0)" font-size="13.6" text-anchor="middle">upregulated GO terms</text>
<text x="3.00" y="846.00" font-size="12" font-weight="bold">m</text>
<text x="0" y="0" transform="translate(181.70,814.90) scale(1.08,1)" font-size="11.111" text-anchor="middle">B16-F10-OVA</text>
<text x="0" y="0" transform="translate(181.20,828.00) scale(1.08,1)" font-size="11.111" text-anchor="middle">implantation</text>
<text x="0" y="0" transform="translate(101.00,855.60) scale(1.08,1)" font-size="10.926" font-style="italic">Cd8a<tspan font-size="7.5" dy="-5">-/-</tspan></text>
<g transform="translate(139.90,844.30) scale(0.98,0.98)"><path d="M0,5.8 Q1.2,3.8 3.6,3.1 L4.2,1.2 Q5.3,-0.2 6.6,1.3 Q10.6,0.9 12.6,5 Q14,8.8 13,11.6 L6.2,11.6 Q4.6,11.3 5.1,9.9 L3.4,9.7 Q2.3,9.4 3.3,8.5 Q1.1,7.8 0,5.8Z" fill="#0d0d0d"/><path d="M12.6,11.3 Q16.8,12 18.8,10.6 Q20.3,9.4 19.6,7.6" stroke="#555" stroke-width="0.7" fill="none"/></g>
<line x1="158.30" y1="850.90" x2="243.90" y2="850.90" stroke="#5b9bd5" stroke-width="1.3"/>
<path d="M251.90,850.90L243.40,847.10L243.40,854.70Z" fill="#5b9bd5"/>
<line x1="168.80" y1="844.50" x2="168.80" y2="855.50" stroke="#202020" stroke-width="1.2"/>
<line x1="209.20" y1="844.50" x2="209.20" y2="855.50" stroke="#202020" stroke-width="1.2"/>
<line x1="240.20" y1="844.50" x2="240.20" y2="855.50" stroke="#202020" stroke-width="1.2"/>
<line x1="181.20" y1="832.30" x2="181.20" y2="842.00" stroke="#202020" stroke-width="1.3"/>
<path d="M181.20,850.00L177.60,841.50L184.80,841.50Z" fill="#202020"/>
<text x="0" y="0" transform="translate(175.50,866.50) scale(1.08,1)" font-size="11.111" text-anchor="middle">1213</text>
<text x="0" y="0" transform="translate(209.20,866.50) scale(1.08,1)" font-size="11.111" text-anchor="middle">20</text>
<text x="0" y="0" transform="translate(240.20,866.50) scale(1.08,1)" font-size="11.111" text-anchor="middle">27</text>
<line x1="168.80" y1="914.50" x2="168.80" y2="875.00" stroke="#202020" stroke-width="1.3"/>
<path d="M168.80,867.00L165.20,875.50L172.40,875.50Z" fill="#202020"/>
<path d="M168.8,880.7H209.2V875" fill="none" stroke="#202020" stroke-width="1.3"/>
<line x1="209.20" y1="880.00" x2="209.20" y2="875.00" stroke="#202020" stroke-width="1.3"/>
<path d="M209.20,867.00L205.60,875.50L212.80,875.50Z" fill="#202020"/>
<text x="0" y="0" transform="translate(173.20,892.30) scale(1.08,1)" font-size="11.111">CD8<tspan font-size="7.5" dy="-3.8">+</tspan></text>
<text x="0" y="0" transform="translate(209.20,892.30) scale(1.08,1)" font-size="11.111">T cells</text>
<text x="0" y="0" transform="translate(122.00,876.50) scale(1.08,1)" font-size="11.111" text-anchor="middle">B16-F10-OVA</text>
<text x="0" y="0" transform="translate(122.00,890.80) scale(1.08,1)" font-size="11.111" text-anchor="middle">cell debris</text>
<line x1="121.80" y1="894.30" x2="121.80" y2="903.40" stroke="#202020" stroke-width="1.3"/>
<path d="M121.80,911.40L118.20,902.90L125.40,902.90Z" fill="#202020"/>
<line x1="121.80" y1="941.50" x2="121.80" y2="924.50" stroke="#202020" stroke-width="1.3"/>
<path d="M121.80,916.50L118.20,925.00L125.40,925.00Z" fill="#202020"/>
<text x="0" y="0" transform="translate(22.00,904.20) scale(1.08,1)" font-size="11.111" text-anchor="middle">BMDMs</text>
<text x="0" y="0" transform="translate(22.50,918.50) scale(1.08,1)" font-size="11.111" text-anchor="middle">culture</text>
<g transform="translate(45.60,895.60) scale(1.0,1.0)"><path d="M0,5.8 Q1.2,3.8 3.6,3.1 L4.2,1.2 Q5.3,-0.2 6.6,1.3 Q10.6,0.9 12.6,5 Q14,8.8 13,11.6 L6.2,11.6 Q4.6,11.3 5.1,9.9 L3.4,9.7 Q2.3,9.4 3.3,8.5 Q1.1,7.8 0,5.8Z" fill="#0d0d0d"/><path d="M12.6,11.3 Q16.8,12 18.8,10.6 Q20.3,9.4 19.6,7.6" stroke="#555" stroke-width="0.7" fill="none"/></g>
<g transform="translate(42.60,906.20) scale(1.0)"><path d="M1,2 Q0,0.4 2,0.2 Q4.2,0 5.2,2 Q6.3,4.6 9.2,6.4 L31,2.5 Q33.2,2.3 33.2,4.4 Q33.2,6.3 31,6.7 L12.2,10.1 Q9.4,11 8.8,12.6 Q7.8,14.2 5.6,13.6 Q3.4,13 4,10.8 Q4.6,8.4 3,6 Q1.8,4 1,2Z" fill="#d8c196"/><path d="M12.6,8.4 L31.8,4.5" stroke="#d23c3c" stroke-width="1.7" fill="none"/><path d="M12.6,8.4 L31.8,4.5" stroke="#4f5fb5" stroke-width="0.8" stroke-dasharray="1.1,1.3" fill="none"/></g>
<line x1="76.00" y1="913.70" x2="173.90" y2="913.70" stroke="#5b9bd5" stroke-width="1.3"/>
<path d="M181.90,913.70L173.40,909.90L173.40,917.50Z" fill="#5b9bd5"/>
<line x1="83.40" y1="907.50" x2="83.40" y2="918.50" stroke="#202020" stroke-width="1.2"/>
<text x="0" y="0" transform="translate(83.40,930.80) scale(1.08,1)" font-size="11.111" text-anchor="middle">5</text>
<text x="0" y="0" transform="translate(168.30,931.50) scale(1.08,1)" font-size="11.111" text-anchor="middle">12</text>
<line x1="41.00" y1="935.90" x2="125.90" y2="935.90" stroke="#e07b39" stroke-width="1.3"/>
<path d="M133.90,935.90L125.40,932.10L125.40,939.70Z" fill="#e07b39"/>
<line x1="43.30" y1="931.00" x2="43.30" y2="942.00" stroke="#202020" stroke-width="1.2"/>
<g transform="translate(18.80,929.00) scale(1.0,1.0)"><path d="M0,5.8 Q1.2,3.8 3.6,3.1 L4.2,1.2 Q5.3,-0.2 6.6,1.3 Q10.6,0.9 12.6,5 Q14,8.8 13,11.6 L6.2,11.6 Q4.6,11.3 5.1,9.9 L3.4,9.7 Q2.3,9.4 3.3,8.5 Q1.1,7.8 0,5.8Z" fill="#0d0d0d"/><path d="M12.6,11.3 Q16.8,12 18.8,10.6 Q20.3,9.4 19.6,7.6" stroke="#555" stroke-width="0.7" fill="none"/></g>
<text x="0" y="0" transform="translate(6.10,953.10) scale(1.08,1)" font-size="11.111">Day</text>
<text x="0" y="0" transform="translate(43.00,954.30) scale(1.08,1)" font-size="11.111" text-anchor="middle">0</text>
<text x="0" y="0" transform="translate(122.40,954.30) scale(1.08,1)" font-size="11.111" text-anchor="middle">10</text>
<text x="0" y="0" transform="translate(42.70,969.00) scale(1.08,1)" font-size="11.111" text-anchor="middle">B16-F10-OVA</text>
<text x="0" y="0" transform="translate(42.60,981.30) scale(1.08,1)" font-size="11.111" text-anchor="middle">implantation</text>
<text x="0" y="0" transform="translate(121.90,969.50) scale(1.08,1)" font-size="11.111" text-anchor="middle">Spleen</text>
<text x="0" y="0" transform="translate(122.50,983.20) scale(1.08,1)" font-size="11.111" text-anchor="middle">T cells</text>
<g transform="translate(137.00,918.60) scale(1.0)"><path d="M6.3,0.6 Q11,0 14.5,5.7 Q17.5,10 17.1,16 Q17,23 13,26.5 Q11,27.8 9.5,26.5 Q7,24 7.2,20 Q7,16 4.8,12.4 Q1.8,9 2,5.7 Q2.5,1 6.3,0.6Z" fill="#8d5471"/><path d="M0.2,18.2 Q3,16.4 6.8,16.2" stroke="#d9423f" stroke-width="1.3" fill="none"/><path d="M0.6,19 Q3.2,17.7 6.8,17.6" stroke="#5866c8" stroke-width="0.8" fill="none"/></g>
<text x="0" y="0" transform="translate(268.80,970.00) scale(1.08,1)" font-size="11.111" text-anchor="end">T cells co-cultured</text>
<text x="0" y="0" transform="translate(268.80,983.70) scale(1.08,1)" font-size="11.111" text-anchor="end">with BMDMs:</text>
<text x="283.90" y="845.30" font-size="12" font-weight="bold">n</text>
<path d="M322.7,850.3V954.1H425" fill="none" stroke="#202020" stroke-width="1.1"/>
<line x1="319.70" y1="954.10" x2="322.70" y2="954.10" stroke="#202020" stroke-width="1.0"/>
<text x="0" y="0" transform="translate(317.00,957.70) scale(1.2,1)" font-size="10.5" text-anchor="end">0.0</text>
<line x1="319.70" y1="919.67" x2="322.70" y2="919.67" stroke="#202020" stroke-width="1.0"/>
<text x="0" y="0" transform="translate(317.00,923.27) scale(1.2,1)" font-size="10.5" text-anchor="end">0.5</text>
<line x1="319.70" y1="885.23" x2="322.70" y2="885.23" stroke="#202020" stroke-width="1.0"/>
<text x="0" y="0" transform="translate(317.00,888.83) scale(1.2,1)" font-size="10.5" text-anchor="end">1.0</text>
<line x1="319.70" y1="850.80" x2="322.70" y2="850.80" stroke="#202020" stroke-width="1.0"/>
<text x="0" y="0" transform="translate(317.00,854.40) scale(1.2,1)" font-size="10.5" text-anchor="end">1.5</text>
<line x1="342.60" y1="954.10" x2="342.60" y2="957.60" stroke="#202020" stroke-width="1.0"/>
<line x1="373.60" y1="954.10" x2="373.60" y2="957.60" stroke="#202020" stroke-width="1.0"/>
<line x1="404.60" y1="954.10" x2="404.60" y2="957.60" stroke="#202020" stroke-width="1.0"/>
<rect x="332.90" y="891.43" width="19.4" height="62.67" fill="#fff" stroke="#111" stroke-width="1.2"/>
<path d="M342.60,899.01V883.86M338.10,883.86H347.10M338.10,899.01H347.10" fill="none" stroke="#111" stroke-width="1.2"/>
<rect x="363.90" y="910.03" width="19.4" height="44.07" fill="#c3c5fc" stroke="#5252ff" stroke-width="1.2"/>
<path d="M373.60,915.53V904.52M369.10,904.52H378.10M369.10,915.53H378.10" fill="none" stroke="#5252ff" stroke-width="1.2"/>
<rect x="394.90" y="937.23" width="19.4" height="16.87" fill="#f7e0e2" stroke="#f24646" stroke-width="1.2"/>
<path d="M404.60,942.39V932.06M400.10,932.06H409.10M400.10,942.39H409.10" fill="none" stroke="#f24646" stroke-width="1.2"/>
<path d="M335.00,876.60L337.90,881.70L332.10,881.70Z" fill="#111"/>
<path d="M343.20,874.50L346.10,879.60L340.30,879.60Z" fill="#111"/>
<path d="M351.30,878.20L354.20,883.30L348.40,883.30Z" fill="#111"/>
<path d="M343.20,904.80L346.10,909.90L340.30,909.90Z" fill="#111"/>
<path d="M342.00,910.90L344.90,916.00L339.10,916.00Z" fill="#111"/>
<rect x="366.80" y="894.50" width="4.6" height="4.6" fill="#5050ff"/>
<rect x="376.00" y="896.20" width="4.6" height="4.6" fill="#5050ff"/>
<rect x="366.70" y="912.50" width="4.6" height="4.6" fill="#5050ff"/>
<rect x="376.00" y="911.20" width="4.6" height="4.6" fill="#5050ff"/>
<rect x="371.30" y="922.10" width="4.6" height="4.6" fill="#5050ff"/>
<circle cx="404.50" cy="918.50" r="2.45" fill="#f03838"/>
<circle cx="399.50" cy="936.50" r="2.45" fill="#f03838"/>
<circle cx="409.50" cy="936.00" r="2.45" fill="#f03838"/>
<circle cx="399.50" cy="946.00" r="2.45" fill="#f03838"/>
<circle cx="409.50" cy="946.00" r="2.45" fill="#f03838"/>
<path d="M342.60,855.30V850.80H404.90V855.30" fill="none" stroke="#222" stroke-width="1.0"/>
<text x="373.75" y="848.80" font-size="10.4" text-anchor="middle"><tspan font-style="italic">P</tspan>=0.0006</text>
<path d="M342.60,868.20V863.70H374.20V868.20" fill="none" stroke="#222" stroke-width="1.0"/>
<text x="358.40" y="861.70" font-size="11.024000000000001" text-anchor="middle">ns</text>
<path d="M373.60,882.50V878.00H404.90V882.50" fill="none" stroke="#222" stroke-width="1.0"/>
<text x="389.25" y="875.40" font-size="10.4" text-anchor="middle"><tspan font-style="italic">P</tspan>=0.0163</text>
<text x="335.80" y="969.00" font-size="12" text-anchor="end">WT</text>
<text x="335.80" y="982.30" font-size="12" text-anchor="end" font-style="italic">Tmem175<tspan font-size="7" dy="-4">-/-</tspan></text>
<text x="342.60" y="969.00" font-size="12" text-anchor="middle">-</text>
<text x="342.60" y="982.30" font-size="12" text-anchor="middle">-</text>
<text x="373.60" y="969.00" font-size="12" text-anchor="middle">+</text>
<text x="373.60" y="982.30" font-size="12" text-anchor="middle">-</text>
<text x="404.60" y="969.00" font-size="12" text-anchor="middle">-</text>
<text x="404.60" y="982.30" font-size="12" text-anchor="middle">+</text>
<text x="0" y="0" transform="translate(290.30,904.60) rotate(-90) scale(1,1.0)" font-size="13.3" text-anchor="middle">Tumor weight (g)</text>
</svg>
</body></html>
